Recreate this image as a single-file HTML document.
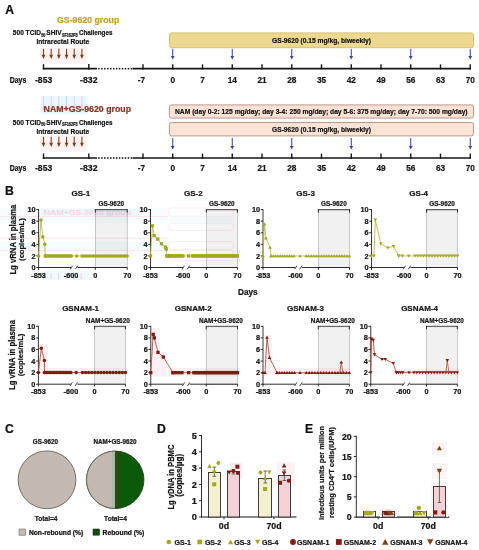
<!DOCTYPE html>
<html><head><meta charset="utf-8"><style>
html,body{margin:0;padding:0;background:#fff;}
body{width:479px;height:550px;overflow:hidden;}
svg{display:block;}
text{font-family:"Liberation Sans",sans-serif;font-weight:bold;}
</style></head><body>
<svg width="479" height="550" viewBox="0 0 479 550">
<rect width="479" height="550" fill="#fff"/>
<text x="5.20" y="14.00" font-size="12.2" text-anchor="start" fill="#111" stroke="#111" stroke-width="0.22">A</text>
<text x="57.00" y="22.70" font-size="8.8" text-anchor="start" fill="#c5a12f" stroke="#c5a12f" stroke-width="0.22" textLength="62.30" lengthAdjust="spacingAndGlyphs">GS-9620 group</text>
<rect x="169.60" y="32.90" width="303.90" height="14.80" fill="#ecd98f" stroke="#d3bd68" stroke-width="0.9" rx="2"/>
<text x="272.00" y="43.30" font-size="7.8" text-anchor="start" fill="#111" stroke="#111" stroke-width="0.22" textLength="99.00" lengthAdjust="spacingAndGlyphs">GS-9620 (0.15 mg/kg, biweekly)</text>
<text x="12.80" y="35.40" font-size="8.1" text-anchor="start" fill="#111" stroke="#111" stroke-width="0.22" textLength="28.20" lengthAdjust="spacingAndGlyphs">500 TCID</text>
<text x="41.20" y="36.90" font-size="5.0" text-anchor="start" fill="#111" stroke="#111" stroke-width="0.22" textLength="4.20" lengthAdjust="spacingAndGlyphs">50</text>
<text x="46.30" y="35.40" font-size="8.1" text-anchor="start" fill="#111" stroke="#111" stroke-width="0.22" textLength="15.30" lengthAdjust="spacingAndGlyphs">SHIV</text>
<text x="62.00" y="36.90" font-size="5.0" text-anchor="start" fill="#111" stroke="#111" stroke-width="0.22" textLength="15.60" lengthAdjust="spacingAndGlyphs">SF162P3</text>
<text x="79.00" y="35.40" font-size="8.1" text-anchor="start" fill="#111" stroke="#111" stroke-width="0.22" textLength="33.40" lengthAdjust="spacingAndGlyphs">Challenges</text>
<text x="36.40" y="44.40" font-size="8.1" text-anchor="start" fill="#111" stroke="#111" stroke-width="0.22" textLength="52.90" lengthAdjust="spacingAndGlyphs">Intrarectal Route</text>
<rect x="40.00" y="48.00" width="46.50" height="15.50" fill="#fef2f4" stroke="none" stroke-width="1" rx="0"/>
<line x1="43.50" y1="48.80" x2="43.50" y2="55.30" stroke="#7e4218" stroke-width="1.1"/>
<path d="M41.60,54.80L45.40,54.80L43.50,59.00Z" fill="#7e4218"/>
<line x1="51.18" y1="48.80" x2="51.18" y2="55.30" stroke="#7e4218" stroke-width="1.1"/>
<path d="M49.28,54.80L53.08,54.80L51.18,59.00Z" fill="#7e4218"/>
<line x1="58.86" y1="48.80" x2="58.86" y2="55.30" stroke="#7e4218" stroke-width="1.1"/>
<path d="M56.96,54.80L60.76,54.80L58.86,59.00Z" fill="#7e4218"/>
<line x1="66.54" y1="48.80" x2="66.54" y2="55.30" stroke="#7e4218" stroke-width="1.1"/>
<path d="M64.64,54.80L68.44,54.80L66.54,59.00Z" fill="#7e4218"/>
<line x1="74.22" y1="48.80" x2="74.22" y2="55.30" stroke="#7e4218" stroke-width="1.1"/>
<path d="M72.32,54.80L76.12,54.80L74.22,59.00Z" fill="#7e4218"/>
<line x1="81.90" y1="48.80" x2="81.90" y2="55.30" stroke="#7e4218" stroke-width="1.1"/>
<path d="M80.00,54.80L83.80,54.80L81.90,59.00Z" fill="#7e4218"/>
<line x1="42.80" y1="68.70" x2="97.00" y2="68.70" stroke="#161616" stroke-width="1.7"/>
<line x1="43.50" y1="64.10" x2="43.50" y2="69.50" stroke="#161616" stroke-width="1.4"/>
<line x1="88.80" y1="64.10" x2="88.80" y2="69.50" stroke="#161616" stroke-width="1.4"/>
<rect x="98.20" y="67.90" width="1.50" height="1.60" fill="#161616" stroke="none" stroke-width="1" rx="0"/>
<rect x="101.15" y="67.90" width="1.50" height="1.60" fill="#161616" stroke="none" stroke-width="1" rx="0"/>
<rect x="104.10" y="67.90" width="1.50" height="1.60" fill="#161616" stroke="none" stroke-width="1" rx="0"/>
<rect x="107.05" y="67.90" width="1.50" height="1.60" fill="#161616" stroke="none" stroke-width="1" rx="0"/>
<rect x="110.00" y="67.90" width="1.50" height="1.60" fill="#161616" stroke="none" stroke-width="1" rx="0"/>
<rect x="112.95" y="67.90" width="1.50" height="1.60" fill="#161616" stroke="none" stroke-width="1" rx="0"/>
<rect x="115.90" y="67.90" width="1.50" height="1.60" fill="#161616" stroke="none" stroke-width="1" rx="0"/>
<rect x="118.85" y="67.90" width="1.50" height="1.60" fill="#161616" stroke="none" stroke-width="1" rx="0"/>
<rect x="121.80" y="67.90" width="1.50" height="1.60" fill="#161616" stroke="none" stroke-width="1" rx="0"/>
<rect x="124.75" y="67.90" width="1.50" height="1.60" fill="#161616" stroke="none" stroke-width="1" rx="0"/>
<rect x="127.70" y="67.90" width="1.50" height="1.60" fill="#161616" stroke="none" stroke-width="1" rx="0"/>
<rect x="130.65" y="67.90" width="1.50" height="1.60" fill="#161616" stroke="none" stroke-width="1" rx="0"/>
<line x1="132.60" y1="68.70" x2="470.80" y2="68.70" stroke="#161616" stroke-width="1.7"/>
<line x1="143.00" y1="64.30" x2="143.00" y2="69.50" stroke="#161616" stroke-width="1.4"/>
<line x1="172.75" y1="64.30" x2="172.75" y2="69.50" stroke="#161616" stroke-width="1.4"/>
<line x1="202.50" y1="64.30" x2="202.50" y2="69.50" stroke="#161616" stroke-width="1.4"/>
<line x1="232.25" y1="64.30" x2="232.25" y2="69.50" stroke="#161616" stroke-width="1.4"/>
<line x1="262.00" y1="64.30" x2="262.00" y2="69.50" stroke="#161616" stroke-width="1.4"/>
<line x1="291.75" y1="64.30" x2="291.75" y2="69.50" stroke="#161616" stroke-width="1.4"/>
<line x1="321.50" y1="64.30" x2="321.50" y2="69.50" stroke="#161616" stroke-width="1.4"/>
<line x1="351.25" y1="64.30" x2="351.25" y2="69.50" stroke="#161616" stroke-width="1.4"/>
<line x1="381.00" y1="64.30" x2="381.00" y2="69.50" stroke="#161616" stroke-width="1.4"/>
<line x1="410.75" y1="64.30" x2="410.75" y2="69.50" stroke="#161616" stroke-width="1.4"/>
<line x1="440.50" y1="64.30" x2="440.50" y2="69.50" stroke="#161616" stroke-width="1.4"/>
<line x1="470.25" y1="64.30" x2="470.25" y2="69.50" stroke="#161616" stroke-width="1.4"/>
<text x="9.80" y="82.60" font-size="8.2" text-anchor="start" fill="#111" stroke="#111" stroke-width="0.22" textLength="16.40" lengthAdjust="spacingAndGlyphs">Days</text>
<text x="43.60" y="82.60" font-size="9.0" text-anchor="middle" fill="#161616" stroke="#161616" stroke-width="0.22" textLength="17.20" lengthAdjust="spacingAndGlyphs">-853</text>
<text x="88.80" y="82.60" font-size="9.0" text-anchor="middle" fill="#161616" stroke="#161616" stroke-width="0.22" textLength="17.40" lengthAdjust="spacingAndGlyphs">-832</text>
<text x="141.50" y="82.60" font-size="9.0" text-anchor="middle" fill="#161616" stroke="#161616" stroke-width="0.22" textLength="7.36" lengthAdjust="spacingAndGlyphs">-7</text>
<text x="172.75" y="82.60" font-size="9.0" text-anchor="middle" fill="#161616" stroke="#161616" stroke-width="0.22" textLength="4.60" lengthAdjust="spacingAndGlyphs">0</text>
<text x="202.50" y="82.60" font-size="9.0" text-anchor="middle" fill="#161616" stroke="#161616" stroke-width="0.22" textLength="4.60" lengthAdjust="spacingAndGlyphs">7</text>
<text x="232.25" y="82.60" font-size="9.0" text-anchor="middle" fill="#161616" stroke="#161616" stroke-width="0.22" textLength="9.21" lengthAdjust="spacingAndGlyphs">14</text>
<text x="262.00" y="82.60" font-size="9.0" text-anchor="middle" fill="#161616" stroke="#161616" stroke-width="0.22" textLength="9.21" lengthAdjust="spacingAndGlyphs">21</text>
<text x="291.75" y="82.60" font-size="9.0" text-anchor="middle" fill="#161616" stroke="#161616" stroke-width="0.22" textLength="9.21" lengthAdjust="spacingAndGlyphs">28</text>
<text x="321.50" y="82.60" font-size="9.0" text-anchor="middle" fill="#161616" stroke="#161616" stroke-width="0.22" textLength="9.21" lengthAdjust="spacingAndGlyphs">35</text>
<text x="351.25" y="82.60" font-size="9.0" text-anchor="middle" fill="#161616" stroke="#161616" stroke-width="0.22" textLength="9.21" lengthAdjust="spacingAndGlyphs">42</text>
<text x="381.00" y="82.60" font-size="9.0" text-anchor="middle" fill="#161616" stroke="#161616" stroke-width="0.22" textLength="9.21" lengthAdjust="spacingAndGlyphs">49</text>
<text x="410.75" y="82.60" font-size="9.0" text-anchor="middle" fill="#161616" stroke="#161616" stroke-width="0.22" textLength="9.21" lengthAdjust="spacingAndGlyphs">56</text>
<text x="440.50" y="82.60" font-size="9.0" text-anchor="middle" fill="#161616" stroke="#161616" stroke-width="0.22" textLength="9.21" lengthAdjust="spacingAndGlyphs">63</text>
<text x="470.25" y="82.60" font-size="9.0" text-anchor="middle" fill="#161616" stroke="#161616" stroke-width="0.22" textLength="9.21" lengthAdjust="spacingAndGlyphs">70</text>
<line x1="172.75" y1="48.80" x2="172.75" y2="56.40" stroke="#3c3c9c" stroke-width="1.0"/>
<path d="M170.95,55.90L174.55,55.90L172.75,59.50Z" fill="#3c3c9c"/>
<line x1="232.25" y1="48.80" x2="232.25" y2="56.40" stroke="#3c3c9c" stroke-width="1.0"/>
<path d="M230.45,55.90L234.05,55.90L232.25,59.50Z" fill="#3c3c9c"/>
<line x1="291.75" y1="48.80" x2="291.75" y2="56.40" stroke="#3c3c9c" stroke-width="1.0"/>
<path d="M289.95,55.90L293.55,55.90L291.75,59.50Z" fill="#3c3c9c"/>
<line x1="351.25" y1="48.80" x2="351.25" y2="56.40" stroke="#3c3c9c" stroke-width="1.0"/>
<path d="M349.45,55.90L353.05,55.90L351.25,59.50Z" fill="#3c3c9c"/>
<line x1="410.75" y1="48.80" x2="410.75" y2="56.40" stroke="#3c3c9c" stroke-width="1.0"/>
<path d="M408.95,55.90L412.55,55.90L410.75,59.50Z" fill="#3c3c9c"/>
<line x1="470.25" y1="48.80" x2="470.25" y2="56.40" stroke="#3c3c9c" stroke-width="1.0"/>
<path d="M468.45,55.90L472.05,55.90L470.25,59.50Z" fill="#3c3c9c"/>
<rect x="41.00" y="96.00" width="46.50" height="18.00" fill="#e6f8fb" stroke="none" stroke-width="1" rx="0"/>
<line x1="43.50" y1="96.00" x2="43.50" y2="110.00" stroke="#f6bcd8" stroke-width="0.8"/>
<path d="M41.90,107.5 L45.10,107.5 L43.50,111 Z" fill="#f6bcd8"/>
<line x1="51.18" y1="96.00" x2="51.18" y2="110.00" stroke="#f6bcd8" stroke-width="0.8"/>
<path d="M49.58,107.5 L52.78,107.5 L51.18,111 Z" fill="#f6bcd8"/>
<line x1="58.86" y1="96.00" x2="58.86" y2="110.00" stroke="#f6bcd8" stroke-width="0.8"/>
<path d="M57.26,107.5 L60.46,107.5 L58.86,111 Z" fill="#f6bcd8"/>
<line x1="66.54" y1="96.00" x2="66.54" y2="110.00" stroke="#f6bcd8" stroke-width="0.8"/>
<path d="M64.94,107.5 L68.14,107.5 L66.54,111 Z" fill="#f6bcd8"/>
<line x1="74.22" y1="96.00" x2="74.22" y2="110.00" stroke="#f6bcd8" stroke-width="0.8"/>
<path d="M72.62,107.5 L75.82,107.5 L74.22,111 Z" fill="#f6bcd8"/>
<line x1="81.90" y1="96.00" x2="81.90" y2="110.00" stroke="#f6bcd8" stroke-width="0.8"/>
<path d="M80.30,107.5 L83.50,107.5 L81.90,111 Z" fill="#f6bcd8"/>
<text x="43.60" y="112.00" font-size="8.8" text-anchor="start" fill="#8f3322" stroke="#8f3322" stroke-width="0.22" textLength="87.40" lengthAdjust="spacingAndGlyphs">NAM+GS-9620 group</text>
<rect x="169.40" y="104.90" width="304.10" height="13.20" fill="#fde2d6" stroke="#b98f80" stroke-width="0.9" rx="2"/>
<rect x="169.40" y="122.50" width="304.10" height="13.40" fill="#fde2d6" stroke="#b98f80" stroke-width="0.9" rx="2"/>
<text x="175.00" y="113.80" font-size="7.8" text-anchor="start" fill="#111" stroke="#111" stroke-width="0.22" textLength="292.60" lengthAdjust="spacingAndGlyphs">NAM (day 0-2: 125 mg/day; day 3-4: 250 mg/day; day 5-6: 375 mg/day; day 7-70: 500 mg/day)</text>
<text x="272.00" y="131.60" font-size="7.8" text-anchor="start" fill="#111" stroke="#111" stroke-width="0.22" textLength="99.00" lengthAdjust="spacingAndGlyphs">GS-9620 (0.15 mg/kg, biweekly)</text>
<text x="12.80" y="124.50" font-size="8.1" text-anchor="start" fill="#111" stroke="#111" stroke-width="0.22" textLength="28.20" lengthAdjust="spacingAndGlyphs">500 TCID</text>
<text x="41.20" y="126.00" font-size="5.0" text-anchor="start" fill="#111" stroke="#111" stroke-width="0.22" textLength="4.20" lengthAdjust="spacingAndGlyphs">50</text>
<text x="46.30" y="124.50" font-size="8.1" text-anchor="start" fill="#111" stroke="#111" stroke-width="0.22" textLength="15.30" lengthAdjust="spacingAndGlyphs">SHIV</text>
<text x="62.00" y="126.00" font-size="5.0" text-anchor="start" fill="#111" stroke="#111" stroke-width="0.22" textLength="15.60" lengthAdjust="spacingAndGlyphs">SF162P3</text>
<text x="79.00" y="124.50" font-size="8.1" text-anchor="start" fill="#111" stroke="#111" stroke-width="0.22" textLength="33.40" lengthAdjust="spacingAndGlyphs">Challenges</text>
<text x="36.40" y="133.50" font-size="8.1" text-anchor="start" fill="#111" stroke="#111" stroke-width="0.22" textLength="52.90" lengthAdjust="spacingAndGlyphs">Intrarectal Route</text>
<rect x="40.00" y="136.00" width="46.50" height="15.50" fill="#fef2f4" stroke="none" stroke-width="1" rx="0"/>
<line x1="43.50" y1="136.80" x2="43.50" y2="143.30" stroke="#7e4218" stroke-width="1.1"/>
<path d="M41.60,142.80L45.40,142.80L43.50,147.00Z" fill="#7e4218"/>
<line x1="51.18" y1="136.80" x2="51.18" y2="143.30" stroke="#7e4218" stroke-width="1.1"/>
<path d="M49.28,142.80L53.08,142.80L51.18,147.00Z" fill="#7e4218"/>
<line x1="58.86" y1="136.80" x2="58.86" y2="143.30" stroke="#7e4218" stroke-width="1.1"/>
<path d="M56.96,142.80L60.76,142.80L58.86,147.00Z" fill="#7e4218"/>
<line x1="66.54" y1="136.80" x2="66.54" y2="143.30" stroke="#7e4218" stroke-width="1.1"/>
<path d="M64.64,142.80L68.44,142.80L66.54,147.00Z" fill="#7e4218"/>
<line x1="74.22" y1="136.80" x2="74.22" y2="143.30" stroke="#7e4218" stroke-width="1.1"/>
<path d="M72.32,142.80L76.12,142.80L74.22,147.00Z" fill="#7e4218"/>
<line x1="81.90" y1="136.80" x2="81.90" y2="143.30" stroke="#7e4218" stroke-width="1.1"/>
<path d="M80.00,142.80L83.80,142.80L81.90,147.00Z" fill="#7e4218"/>
<line x1="42.80" y1="158.00" x2="97.00" y2="158.00" stroke="#161616" stroke-width="1.7"/>
<line x1="43.50" y1="153.40" x2="43.50" y2="158.80" stroke="#161616" stroke-width="1.4"/>
<line x1="88.80" y1="153.40" x2="88.80" y2="158.80" stroke="#161616" stroke-width="1.4"/>
<rect x="98.20" y="157.20" width="1.50" height="1.60" fill="#161616" stroke="none" stroke-width="1" rx="0"/>
<rect x="101.15" y="157.20" width="1.50" height="1.60" fill="#161616" stroke="none" stroke-width="1" rx="0"/>
<rect x="104.10" y="157.20" width="1.50" height="1.60" fill="#161616" stroke="none" stroke-width="1" rx="0"/>
<rect x="107.05" y="157.20" width="1.50" height="1.60" fill="#161616" stroke="none" stroke-width="1" rx="0"/>
<rect x="110.00" y="157.20" width="1.50" height="1.60" fill="#161616" stroke="none" stroke-width="1" rx="0"/>
<rect x="112.95" y="157.20" width="1.50" height="1.60" fill="#161616" stroke="none" stroke-width="1" rx="0"/>
<rect x="115.90" y="157.20" width="1.50" height="1.60" fill="#161616" stroke="none" stroke-width="1" rx="0"/>
<rect x="118.85" y="157.20" width="1.50" height="1.60" fill="#161616" stroke="none" stroke-width="1" rx="0"/>
<rect x="121.80" y="157.20" width="1.50" height="1.60" fill="#161616" stroke="none" stroke-width="1" rx="0"/>
<rect x="124.75" y="157.20" width="1.50" height="1.60" fill="#161616" stroke="none" stroke-width="1" rx="0"/>
<rect x="127.70" y="157.20" width="1.50" height="1.60" fill="#161616" stroke="none" stroke-width="1" rx="0"/>
<rect x="130.65" y="157.20" width="1.50" height="1.60" fill="#161616" stroke="none" stroke-width="1" rx="0"/>
<line x1="132.60" y1="158.00" x2="470.80" y2="158.00" stroke="#161616" stroke-width="1.7"/>
<line x1="143.00" y1="153.60" x2="143.00" y2="158.80" stroke="#161616" stroke-width="1.4"/>
<line x1="172.75" y1="153.60" x2="172.75" y2="158.80" stroke="#161616" stroke-width="1.4"/>
<line x1="202.50" y1="153.60" x2="202.50" y2="158.80" stroke="#161616" stroke-width="1.4"/>
<line x1="232.25" y1="153.60" x2="232.25" y2="158.80" stroke="#161616" stroke-width="1.4"/>
<line x1="262.00" y1="153.60" x2="262.00" y2="158.80" stroke="#161616" stroke-width="1.4"/>
<line x1="291.75" y1="153.60" x2="291.75" y2="158.80" stroke="#161616" stroke-width="1.4"/>
<line x1="321.50" y1="153.60" x2="321.50" y2="158.80" stroke="#161616" stroke-width="1.4"/>
<line x1="351.25" y1="153.60" x2="351.25" y2="158.80" stroke="#161616" stroke-width="1.4"/>
<line x1="381.00" y1="153.60" x2="381.00" y2="158.80" stroke="#161616" stroke-width="1.4"/>
<line x1="410.75" y1="153.60" x2="410.75" y2="158.80" stroke="#161616" stroke-width="1.4"/>
<line x1="440.50" y1="153.60" x2="440.50" y2="158.80" stroke="#161616" stroke-width="1.4"/>
<line x1="470.25" y1="153.60" x2="470.25" y2="158.80" stroke="#161616" stroke-width="1.4"/>
<text x="9.80" y="171.00" font-size="8.2" text-anchor="start" fill="#111" stroke="#111" stroke-width="0.22" textLength="16.40" lengthAdjust="spacingAndGlyphs">Days</text>
<text x="43.60" y="171.00" font-size="9.0" text-anchor="middle" fill="#161616" stroke="#161616" stroke-width="0.22" textLength="17.20" lengthAdjust="spacingAndGlyphs">-853</text>
<text x="88.80" y="171.00" font-size="9.0" text-anchor="middle" fill="#161616" stroke="#161616" stroke-width="0.22" textLength="17.40" lengthAdjust="spacingAndGlyphs">-832</text>
<text x="141.50" y="171.00" font-size="9.0" text-anchor="middle" fill="#161616" stroke="#161616" stroke-width="0.22" textLength="7.36" lengthAdjust="spacingAndGlyphs">-7</text>
<text x="172.75" y="171.00" font-size="9.0" text-anchor="middle" fill="#161616" stroke="#161616" stroke-width="0.22" textLength="4.60" lengthAdjust="spacingAndGlyphs">0</text>
<text x="202.50" y="171.00" font-size="9.0" text-anchor="middle" fill="#161616" stroke="#161616" stroke-width="0.22" textLength="4.60" lengthAdjust="spacingAndGlyphs">7</text>
<text x="232.25" y="171.00" font-size="9.0" text-anchor="middle" fill="#161616" stroke="#161616" stroke-width="0.22" textLength="9.21" lengthAdjust="spacingAndGlyphs">14</text>
<text x="262.00" y="171.00" font-size="9.0" text-anchor="middle" fill="#161616" stroke="#161616" stroke-width="0.22" textLength="9.21" lengthAdjust="spacingAndGlyphs">21</text>
<text x="291.75" y="171.00" font-size="9.0" text-anchor="middle" fill="#161616" stroke="#161616" stroke-width="0.22" textLength="9.21" lengthAdjust="spacingAndGlyphs">28</text>
<text x="321.50" y="171.00" font-size="9.0" text-anchor="middle" fill="#161616" stroke="#161616" stroke-width="0.22" textLength="9.21" lengthAdjust="spacingAndGlyphs">35</text>
<text x="351.25" y="171.00" font-size="9.0" text-anchor="middle" fill="#161616" stroke="#161616" stroke-width="0.22" textLength="9.21" lengthAdjust="spacingAndGlyphs">42</text>
<text x="381.00" y="171.00" font-size="9.0" text-anchor="middle" fill="#161616" stroke="#161616" stroke-width="0.22" textLength="9.21" lengthAdjust="spacingAndGlyphs">49</text>
<text x="410.75" y="171.00" font-size="9.0" text-anchor="middle" fill="#161616" stroke="#161616" stroke-width="0.22" textLength="9.21" lengthAdjust="spacingAndGlyphs">56</text>
<text x="440.50" y="171.00" font-size="9.0" text-anchor="middle" fill="#161616" stroke="#161616" stroke-width="0.22" textLength="9.21" lengthAdjust="spacingAndGlyphs">63</text>
<text x="470.25" y="171.00" font-size="9.0" text-anchor="middle" fill="#161616" stroke="#161616" stroke-width="0.22" textLength="9.21" lengthAdjust="spacingAndGlyphs">70</text>
<line x1="172.75" y1="138.00" x2="172.75" y2="146.40" stroke="#3c3c9c" stroke-width="1.0"/>
<path d="M170.95,145.90L174.55,145.90L172.75,149.50Z" fill="#3c3c9c"/>
<line x1="232.25" y1="138.00" x2="232.25" y2="146.40" stroke="#3c3c9c" stroke-width="1.0"/>
<path d="M230.45,145.90L234.05,145.90L232.25,149.50Z" fill="#3c3c9c"/>
<line x1="291.75" y1="138.00" x2="291.75" y2="146.40" stroke="#3c3c9c" stroke-width="1.0"/>
<path d="M289.95,145.90L293.55,145.90L291.75,149.50Z" fill="#3c3c9c"/>
<line x1="351.25" y1="138.00" x2="351.25" y2="146.40" stroke="#3c3c9c" stroke-width="1.0"/>
<path d="M349.45,145.90L353.05,145.90L351.25,149.50Z" fill="#3c3c9c"/>
<line x1="410.75" y1="138.00" x2="410.75" y2="146.40" stroke="#3c3c9c" stroke-width="1.0"/>
<path d="M408.95,145.90L412.55,145.90L410.75,149.50Z" fill="#3c3c9c"/>
<line x1="470.25" y1="138.00" x2="470.25" y2="146.40" stroke="#3c3c9c" stroke-width="1.0"/>
<path d="M468.45,145.90L472.05,145.90L470.25,149.50Z" fill="#3c3c9c"/>
<text x="5.00" y="194.90" font-size="12.2" text-anchor="start" fill="#111" stroke="#111" stroke-width="0.22">B</text>
<rect x="95.30" y="210.10" width="31.90" height="57.40" fill="#f1f1f2" stroke="#a8a8a8" stroke-width="0.6" rx="0"/>
<line x1="95.30" y1="209.60" x2="127.20" y2="209.60" stroke="#2a2a2a" stroke-width="0.8"/>
<line x1="95.30" y1="209.10" x2="95.30" y2="212.60" stroke="#161616" stroke-width="0.9"/>
<line x1="127.20" y1="209.10" x2="127.20" y2="212.60" stroke="#161616" stroke-width="0.9"/>
<text x="111.25" y="206.00" font-size="6.6" text-anchor="middle" fill="#161616" stroke="#161616" stroke-width="0.22" textLength="25.62" lengthAdjust="spacingAndGlyphs">GS-9620</text>
<text x="80.80" y="195.50" font-size="8.0" text-anchor="middle" fill="#161616" stroke="#161616" stroke-width="0.22">GS-1</text>
<line x1="38.60" y1="209.10" x2="38.60" y2="268.00" stroke="#3a3a3a" stroke-width="1.0"/>
<line x1="36.30" y1="267.50" x2="38.60" y2="267.50" stroke="#161616" stroke-width="0.9"/>
<text x="35.60" y="270.10" font-size="7.3" text-anchor="end" fill="#161616" stroke="#161616" stroke-width="0.22">0</text>
<line x1="36.30" y1="255.92" x2="38.60" y2="255.92" stroke="#161616" stroke-width="0.9"/>
<text x="35.60" y="258.52" font-size="7.3" text-anchor="end" fill="#161616" stroke="#161616" stroke-width="0.22">2</text>
<line x1="36.30" y1="244.34" x2="38.60" y2="244.34" stroke="#161616" stroke-width="0.9"/>
<text x="35.60" y="246.94" font-size="7.3" text-anchor="end" fill="#161616" stroke="#161616" stroke-width="0.22">4</text>
<line x1="36.30" y1="232.76" x2="38.60" y2="232.76" stroke="#161616" stroke-width="0.9"/>
<text x="35.60" y="235.36" font-size="7.3" text-anchor="end" fill="#161616" stroke="#161616" stroke-width="0.22">6</text>
<line x1="36.30" y1="221.18" x2="38.60" y2="221.18" stroke="#161616" stroke-width="0.9"/>
<text x="35.60" y="223.78" font-size="7.3" text-anchor="end" fill="#161616" stroke="#161616" stroke-width="0.22">8</text>
<line x1="36.30" y1="209.60" x2="38.60" y2="209.60" stroke="#161616" stroke-width="0.9"/>
<text x="35.60" y="212.20" font-size="7.3" text-anchor="end" fill="#161616" stroke="#161616" stroke-width="0.22">10</text>
<line x1="38.60" y1="267.50" x2="71.00" y2="267.50" stroke="#161616" stroke-width="0.9"/>
<line x1="77.50" y1="267.50" x2="127.20" y2="267.50" stroke="#161616" stroke-width="0.9"/>
<line x1="70.20" y1="269.30" x2="72.60" y2="265.70" stroke="#161616" stroke-width="0.8"/>
<line x1="75.30" y1="269.30" x2="77.70" y2="265.70" stroke="#161616" stroke-width="0.8"/>
<line x1="95.30" y1="267.50" x2="95.30" y2="269.80" stroke="#161616" stroke-width="0.9"/>
<line x1="127.20" y1="267.50" x2="127.20" y2="269.80" stroke="#161616" stroke-width="0.9"/>
<line x1="38.60" y1="267.50" x2="38.60" y2="269.80" stroke="#161616" stroke-width="0.9"/>
<text x="38.60" y="277.50" font-size="7.3" text-anchor="middle" fill="#161616" stroke="#161616" stroke-width="0.22">-853</text>
<text x="71.10" y="277.50" font-size="7.3" text-anchor="middle" fill="#161616" stroke="#161616" stroke-width="0.22">-600</text>
<text x="95.30" y="277.50" font-size="7.3" text-anchor="middle" fill="#161616" stroke="#161616" stroke-width="0.22">0</text>
<text x="127.20" y="277.50" font-size="7.3" text-anchor="middle" fill="#161616" stroke="#161616" stroke-width="0.22">70</text>
<path d="M38.60,255.92 L41.00,220.02 L42.80,236.81 L44.80,244.34 L45.30,255.92" fill="none" stroke="#b9bb4c" stroke-width="0.9"/>
<line x1="45.30" y1="255.92" x2="127.20" y2="255.92" stroke="#b9bb4c" stroke-width="0.8"/>
<circle cx="38.60" cy="255.92" r="1.75" fill="#a2a820"/>
<circle cx="41.00" cy="220.02" r="1.75" fill="#a2a820"/>
<circle cx="42.80" cy="236.81" r="1.75" fill="#a2a820"/>
<circle cx="44.80" cy="244.34" r="1.75" fill="#a2a820"/>
<circle cx="45.30" cy="255.92" r="1.75" fill="#a2a820"/>
<circle cx="45.30" cy="255.92" r="1.75" fill="#a2a820"/>
<circle cx="46.67" cy="255.92" r="1.75" fill="#a2a820"/>
<circle cx="48.05" cy="255.92" r="1.75" fill="#a2a820"/>
<circle cx="49.42" cy="255.92" r="1.75" fill="#a2a820"/>
<circle cx="50.79" cy="255.92" r="1.75" fill="#a2a820"/>
<circle cx="52.17" cy="255.92" r="1.75" fill="#a2a820"/>
<circle cx="53.54" cy="255.92" r="1.75" fill="#a2a820"/>
<circle cx="54.92" cy="255.92" r="1.75" fill="#a2a820"/>
<circle cx="56.29" cy="255.92" r="1.75" fill="#a2a820"/>
<circle cx="57.66" cy="255.92" r="1.75" fill="#a2a820"/>
<circle cx="59.04" cy="255.92" r="1.75" fill="#a2a820"/>
<circle cx="60.41" cy="255.92" r="1.75" fill="#a2a820"/>
<circle cx="61.78" cy="255.92" r="1.75" fill="#a2a820"/>
<circle cx="63.16" cy="255.92" r="1.75" fill="#a2a820"/>
<circle cx="64.53" cy="255.92" r="1.75" fill="#a2a820"/>
<circle cx="65.91" cy="255.92" r="1.75" fill="#a2a820"/>
<circle cx="67.28" cy="255.92" r="1.75" fill="#a2a820"/>
<circle cx="68.65" cy="255.92" r="1.75" fill="#a2a820"/>
<circle cx="70.03" cy="255.92" r="1.75" fill="#a2a820"/>
<circle cx="71.40" cy="255.92" r="1.75" fill="#a2a820"/>
<circle cx="76.80" cy="255.92" r="1.75" fill="#a2a820"/>
<circle cx="82.00" cy="255.92" r="1.75" fill="#a2a820"/>
<circle cx="84.26" cy="255.92" r="1.75" fill="#a2a820"/>
<circle cx="86.52" cy="255.92" r="1.75" fill="#a2a820"/>
<circle cx="88.78" cy="255.92" r="1.75" fill="#a2a820"/>
<circle cx="91.04" cy="255.92" r="1.75" fill="#a2a820"/>
<circle cx="93.30" cy="255.92" r="1.75" fill="#a2a820"/>
<circle cx="95.56" cy="255.92" r="1.75" fill="#a2a820"/>
<circle cx="97.82" cy="255.92" r="1.75" fill="#a2a820"/>
<circle cx="100.08" cy="255.92" r="1.75" fill="#a2a820"/>
<circle cx="102.34" cy="255.92" r="1.75" fill="#a2a820"/>
<circle cx="104.60" cy="255.92" r="1.75" fill="#a2a820"/>
<circle cx="106.86" cy="255.92" r="1.75" fill="#a2a820"/>
<circle cx="109.12" cy="255.92" r="1.75" fill="#a2a820"/>
<circle cx="111.38" cy="255.92" r="1.75" fill="#a2a820"/>
<circle cx="113.64" cy="255.92" r="1.75" fill="#a2a820"/>
<circle cx="115.90" cy="255.92" r="1.75" fill="#a2a820"/>
<circle cx="118.16" cy="255.92" r="1.75" fill="#a2a820"/>
<circle cx="120.42" cy="255.92" r="1.75" fill="#a2a820"/>
<circle cx="122.68" cy="255.92" r="1.75" fill="#a2a820"/>
<circle cx="124.94" cy="255.92" r="1.75" fill="#a2a820"/>
<circle cx="127.20" cy="255.92" r="1.75" fill="#a2a820"/>
<rect x="206.30" y="210.10" width="31.10" height="57.40" fill="#f1f1f2" stroke="#a8a8a8" stroke-width="0.6" rx="0"/>
<line x1="206.30" y1="209.60" x2="237.40" y2="209.60" stroke="#2a2a2a" stroke-width="0.8"/>
<line x1="206.30" y1="209.10" x2="206.30" y2="212.60" stroke="#161616" stroke-width="0.9"/>
<line x1="237.40" y1="209.10" x2="237.40" y2="212.60" stroke="#161616" stroke-width="0.9"/>
<text x="221.85" y="206.00" font-size="6.6" text-anchor="middle" fill="#161616" stroke="#161616" stroke-width="0.22" textLength="25.62" lengthAdjust="spacingAndGlyphs">GS-9620</text>
<text x="193.25" y="195.50" font-size="8.0" text-anchor="middle" fill="#161616" stroke="#161616" stroke-width="0.22">GS-2</text>
<line x1="150.50" y1="209.10" x2="150.50" y2="268.00" stroke="#3a3a3a" stroke-width="1.0"/>
<line x1="148.20" y1="267.50" x2="150.50" y2="267.50" stroke="#161616" stroke-width="0.9"/>
<text x="147.50" y="270.10" font-size="7.3" text-anchor="end" fill="#161616" stroke="#161616" stroke-width="0.22">0</text>
<line x1="148.20" y1="255.92" x2="150.50" y2="255.92" stroke="#161616" stroke-width="0.9"/>
<text x="147.50" y="258.52" font-size="7.3" text-anchor="end" fill="#161616" stroke="#161616" stroke-width="0.22">2</text>
<line x1="148.20" y1="244.34" x2="150.50" y2="244.34" stroke="#161616" stroke-width="0.9"/>
<text x="147.50" y="246.94" font-size="7.3" text-anchor="end" fill="#161616" stroke="#161616" stroke-width="0.22">4</text>
<line x1="148.20" y1="232.76" x2="150.50" y2="232.76" stroke="#161616" stroke-width="0.9"/>
<text x="147.50" y="235.36" font-size="7.3" text-anchor="end" fill="#161616" stroke="#161616" stroke-width="0.22">6</text>
<line x1="148.20" y1="221.18" x2="150.50" y2="221.18" stroke="#161616" stroke-width="0.9"/>
<text x="147.50" y="223.78" font-size="7.3" text-anchor="end" fill="#161616" stroke="#161616" stroke-width="0.22">8</text>
<line x1="148.20" y1="209.60" x2="150.50" y2="209.60" stroke="#161616" stroke-width="0.9"/>
<text x="147.50" y="212.20" font-size="7.3" text-anchor="end" fill="#161616" stroke="#161616" stroke-width="0.22">10</text>
<line x1="150.50" y1="267.50" x2="182.90" y2="267.50" stroke="#161616" stroke-width="0.9"/>
<line x1="189.40" y1="267.50" x2="237.40" y2="267.50" stroke="#161616" stroke-width="0.9"/>
<line x1="182.10" y1="269.30" x2="184.50" y2="265.70" stroke="#161616" stroke-width="0.8"/>
<line x1="187.20" y1="269.30" x2="189.60" y2="265.70" stroke="#161616" stroke-width="0.8"/>
<line x1="206.30" y1="267.50" x2="206.30" y2="269.80" stroke="#161616" stroke-width="0.9"/>
<line x1="237.40" y1="267.50" x2="237.40" y2="269.80" stroke="#161616" stroke-width="0.9"/>
<line x1="150.50" y1="267.50" x2="150.50" y2="269.80" stroke="#161616" stroke-width="0.9"/>
<text x="150.50" y="277.50" font-size="7.3" text-anchor="middle" fill="#161616" stroke="#161616" stroke-width="0.22">-853</text>
<text x="183.00" y="277.50" font-size="7.3" text-anchor="middle" fill="#161616" stroke="#161616" stroke-width="0.22">-600</text>
<text x="206.30" y="277.50" font-size="7.3" text-anchor="middle" fill="#161616" stroke="#161616" stroke-width="0.22">0</text>
<text x="237.40" y="277.50" font-size="7.3" text-anchor="middle" fill="#161616" stroke="#161616" stroke-width="0.22">70</text>
<path d="M150.50,255.92 L152.40,225.81 L154.10,235.66 L157.80,239.13 L161.50,243.76 L165.50,247.23 L166.20,248.97 L167.00,255.92" fill="none" stroke="#b9bb4c" stroke-width="0.9"/>
<line x1="167.00" y1="255.92" x2="237.40" y2="255.92" stroke="#b9bb4c" stroke-width="0.8"/>
<rect x="148.85" y="254.27" width="3.30" height="3.30" fill="#a2a820"/>
<rect x="150.75" y="224.16" width="3.30" height="3.30" fill="#a2a820"/>
<rect x="152.45" y="234.00" width="3.30" height="3.30" fill="#a2a820"/>
<rect x="156.15" y="237.48" width="3.30" height="3.30" fill="#a2a820"/>
<rect x="159.85" y="242.11" width="3.30" height="3.30" fill="#a2a820"/>
<rect x="163.85" y="245.58" width="3.30" height="3.30" fill="#a2a820"/>
<rect x="164.55" y="247.32" width="3.30" height="3.30" fill="#a2a820"/>
<rect x="165.35" y="254.27" width="3.30" height="3.30" fill="#a2a820"/>
<rect x="165.35" y="254.27" width="3.30" height="3.30" fill="#a2a820"/>
<rect x="166.80" y="254.27" width="3.30" height="3.30" fill="#a2a820"/>
<rect x="168.26" y="254.27" width="3.30" height="3.30" fill="#a2a820"/>
<rect x="169.71" y="254.27" width="3.30" height="3.30" fill="#a2a820"/>
<rect x="171.17" y="254.27" width="3.30" height="3.30" fill="#a2a820"/>
<rect x="172.62" y="254.27" width="3.30" height="3.30" fill="#a2a820"/>
<rect x="174.08" y="254.27" width="3.30" height="3.30" fill="#a2a820"/>
<rect x="175.53" y="254.27" width="3.30" height="3.30" fill="#a2a820"/>
<rect x="176.99" y="254.27" width="3.30" height="3.30" fill="#a2a820"/>
<rect x="178.44" y="254.27" width="3.30" height="3.30" fill="#a2a820"/>
<rect x="179.90" y="254.27" width="3.30" height="3.30" fill="#a2a820"/>
<rect x="181.35" y="254.27" width="3.30" height="3.30" fill="#a2a820"/>
<rect x="186.95" y="254.27" width="3.30" height="3.30" fill="#a2a820"/>
<rect x="190.85" y="254.27" width="3.30" height="3.30" fill="#a2a820"/>
<rect x="192.35" y="254.27" width="3.30" height="3.30" fill="#a2a820"/>
<rect x="193.84" y="254.27" width="3.30" height="3.30" fill="#a2a820"/>
<rect x="195.34" y="254.27" width="3.30" height="3.30" fill="#a2a820"/>
<rect x="196.84" y="254.27" width="3.30" height="3.30" fill="#a2a820"/>
<rect x="198.33" y="254.27" width="3.30" height="3.30" fill="#a2a820"/>
<rect x="199.83" y="254.27" width="3.30" height="3.30" fill="#a2a820"/>
<rect x="201.33" y="254.27" width="3.30" height="3.30" fill="#a2a820"/>
<rect x="202.82" y="254.27" width="3.30" height="3.30" fill="#a2a820"/>
<rect x="204.32" y="254.27" width="3.30" height="3.30" fill="#a2a820"/>
<rect x="205.82" y="254.27" width="3.30" height="3.30" fill="#a2a820"/>
<rect x="207.31" y="254.27" width="3.30" height="3.30" fill="#a2a820"/>
<rect x="208.81" y="254.27" width="3.30" height="3.30" fill="#a2a820"/>
<rect x="210.31" y="254.27" width="3.30" height="3.30" fill="#a2a820"/>
<rect x="211.80" y="254.27" width="3.30" height="3.30" fill="#a2a820"/>
<rect x="213.30" y="254.27" width="3.30" height="3.30" fill="#a2a820"/>
<rect x="214.80" y="254.27" width="3.30" height="3.30" fill="#a2a820"/>
<rect x="216.29" y="254.27" width="3.30" height="3.30" fill="#a2a820"/>
<rect x="217.79" y="254.27" width="3.30" height="3.30" fill="#a2a820"/>
<rect x="219.29" y="254.27" width="3.30" height="3.30" fill="#a2a820"/>
<rect x="220.78" y="254.27" width="3.30" height="3.30" fill="#a2a820"/>
<rect x="222.28" y="254.27" width="3.30" height="3.30" fill="#a2a820"/>
<rect x="223.78" y="254.27" width="3.30" height="3.30" fill="#a2a820"/>
<rect x="225.27" y="254.27" width="3.30" height="3.30" fill="#a2a820"/>
<rect x="226.77" y="254.27" width="3.30" height="3.30" fill="#a2a820"/>
<rect x="228.27" y="254.27" width="3.30" height="3.30" fill="#a2a820"/>
<rect x="229.76" y="254.27" width="3.30" height="3.30" fill="#a2a820"/>
<rect x="231.26" y="254.27" width="3.30" height="3.30" fill="#a2a820"/>
<rect x="232.76" y="254.27" width="3.30" height="3.30" fill="#a2a820"/>
<rect x="234.25" y="254.27" width="3.30" height="3.30" fill="#a2a820"/>
<rect x="235.75" y="254.27" width="3.30" height="3.30" fill="#a2a820"/>
<rect x="318.30" y="210.10" width="31.20" height="57.40" fill="#f1f1f2" stroke="#a8a8a8" stroke-width="0.6" rx="0"/>
<line x1="318.30" y1="209.60" x2="349.50" y2="209.60" stroke="#2a2a2a" stroke-width="0.8"/>
<line x1="318.30" y1="209.10" x2="318.30" y2="212.60" stroke="#161616" stroke-width="0.9"/>
<line x1="349.50" y1="209.10" x2="349.50" y2="212.60" stroke="#161616" stroke-width="0.9"/>
<text x="333.90" y="206.00" font-size="6.6" text-anchor="middle" fill="#161616" stroke="#161616" stroke-width="0.22" textLength="25.62" lengthAdjust="spacingAndGlyphs">GS-9620</text>
<text x="305.50" y="195.50" font-size="8.0" text-anchor="middle" fill="#161616" stroke="#161616" stroke-width="0.22">GS-3</text>
<line x1="263.00" y1="209.10" x2="263.00" y2="268.00" stroke="#3a3a3a" stroke-width="1.0"/>
<line x1="260.70" y1="267.50" x2="263.00" y2="267.50" stroke="#161616" stroke-width="0.9"/>
<text x="260.00" y="270.10" font-size="7.3" text-anchor="end" fill="#161616" stroke="#161616" stroke-width="0.22">0</text>
<line x1="260.70" y1="255.92" x2="263.00" y2="255.92" stroke="#161616" stroke-width="0.9"/>
<text x="260.00" y="258.52" font-size="7.3" text-anchor="end" fill="#161616" stroke="#161616" stroke-width="0.22">2</text>
<line x1="260.70" y1="244.34" x2="263.00" y2="244.34" stroke="#161616" stroke-width="0.9"/>
<text x="260.00" y="246.94" font-size="7.3" text-anchor="end" fill="#161616" stroke="#161616" stroke-width="0.22">4</text>
<line x1="260.70" y1="232.76" x2="263.00" y2="232.76" stroke="#161616" stroke-width="0.9"/>
<text x="260.00" y="235.36" font-size="7.3" text-anchor="end" fill="#161616" stroke="#161616" stroke-width="0.22">6</text>
<line x1="260.70" y1="221.18" x2="263.00" y2="221.18" stroke="#161616" stroke-width="0.9"/>
<text x="260.00" y="223.78" font-size="7.3" text-anchor="end" fill="#161616" stroke="#161616" stroke-width="0.22">8</text>
<line x1="260.70" y1="209.60" x2="263.00" y2="209.60" stroke="#161616" stroke-width="0.9"/>
<text x="260.00" y="212.20" font-size="7.3" text-anchor="end" fill="#161616" stroke="#161616" stroke-width="0.22">10</text>
<line x1="263.00" y1="267.50" x2="295.40" y2="267.50" stroke="#161616" stroke-width="0.9"/>
<line x1="301.90" y1="267.50" x2="349.50" y2="267.50" stroke="#161616" stroke-width="0.9"/>
<line x1="294.60" y1="269.30" x2="297.00" y2="265.70" stroke="#161616" stroke-width="0.8"/>
<line x1="299.70" y1="269.30" x2="302.10" y2="265.70" stroke="#161616" stroke-width="0.8"/>
<line x1="318.30" y1="267.50" x2="318.30" y2="269.80" stroke="#161616" stroke-width="0.9"/>
<line x1="349.50" y1="267.50" x2="349.50" y2="269.80" stroke="#161616" stroke-width="0.9"/>
<line x1="263.00" y1="267.50" x2="263.00" y2="269.80" stroke="#161616" stroke-width="0.9"/>
<text x="263.00" y="277.50" font-size="7.3" text-anchor="middle" fill="#161616" stroke="#161616" stroke-width="0.22">-853</text>
<text x="295.50" y="277.50" font-size="7.3" text-anchor="middle" fill="#161616" stroke="#161616" stroke-width="0.22">-600</text>
<text x="318.30" y="277.50" font-size="7.3" text-anchor="middle" fill="#161616" stroke="#161616" stroke-width="0.22">0</text>
<text x="349.50" y="277.50" font-size="7.3" text-anchor="middle" fill="#161616" stroke="#161616" stroke-width="0.22">70</text>
<path d="M263.00,255.92 L264.50,224.07 L266.00,237.97 L270.00,247.23 L271.00,255.92" fill="none" stroke="#b9bb4c" stroke-width="0.9"/>
<line x1="271.00" y1="255.92" x2="349.50" y2="255.92" stroke="#b9bb4c" stroke-width="0.8"/>
<path d="M261.20,257.34L264.80,257.34L263.00,254.19Z" fill="#a2a820"/>
<path d="M262.70,225.50L266.30,225.50L264.50,222.35Z" fill="#a2a820"/>
<path d="M264.20,239.40L267.80,239.40L266.00,236.25Z" fill="#a2a820"/>
<path d="M268.20,248.66L271.80,248.66L270.00,245.51Z" fill="#a2a820"/>
<path d="M269.20,257.34L272.80,257.34L271.00,254.19Z" fill="#a2a820"/>
<path d="M269.20,257.34L272.80,257.34L271.00,254.19Z" fill="#a2a820"/>
<path d="M271.50,257.34L275.10,257.34L273.30,254.19Z" fill="#a2a820"/>
<path d="M273.80,257.34L277.40,257.34L275.60,254.19Z" fill="#a2a820"/>
<path d="M276.10,257.34L279.70,257.34L277.90,254.19Z" fill="#a2a820"/>
<path d="M278.40,257.34L282.00,257.34L280.20,254.19Z" fill="#a2a820"/>
<path d="M280.70,257.34L284.30,257.34L282.50,254.19Z" fill="#a2a820"/>
<path d="M283.00,257.34L286.60,257.34L284.80,254.19Z" fill="#a2a820"/>
<path d="M285.30,257.34L288.90,257.34L287.10,254.19Z" fill="#a2a820"/>
<path d="M287.60,257.34L291.20,257.34L289.40,254.19Z" fill="#a2a820"/>
<path d="M289.90,257.34L293.50,257.34L291.70,254.19Z" fill="#a2a820"/>
<path d="M292.20,257.34L295.80,257.34L294.00,254.19Z" fill="#a2a820"/>
<path d="M298.20,257.34L301.80,257.34L300.00,254.19Z" fill="#a2a820"/>
<path d="M304.20,257.34L307.80,257.34L306.00,254.19Z" fill="#a2a820"/>
<path d="M306.76,257.34L310.36,257.34L308.56,254.19Z" fill="#a2a820"/>
<path d="M309.32,257.34L312.92,257.34L311.12,254.19Z" fill="#a2a820"/>
<path d="M311.88,257.34L315.48,257.34L313.68,254.19Z" fill="#a2a820"/>
<path d="M314.44,257.34L318.04,257.34L316.24,254.19Z" fill="#a2a820"/>
<path d="M316.99,257.34L320.59,257.34L318.79,254.19Z" fill="#a2a820"/>
<path d="M319.55,257.34L323.15,257.34L321.35,254.19Z" fill="#a2a820"/>
<path d="M322.11,257.34L325.71,257.34L323.91,254.19Z" fill="#a2a820"/>
<path d="M324.67,257.34L328.27,257.34L326.47,254.19Z" fill="#a2a820"/>
<path d="M327.23,257.34L330.83,257.34L329.03,254.19Z" fill="#a2a820"/>
<path d="M329.79,257.34L333.39,257.34L331.59,254.19Z" fill="#a2a820"/>
<path d="M332.35,257.34L335.95,257.34L334.15,254.19Z" fill="#a2a820"/>
<path d="M334.91,257.34L338.51,257.34L336.71,254.19Z" fill="#a2a820"/>
<path d="M337.46,257.34L341.06,257.34L339.26,254.19Z" fill="#a2a820"/>
<path d="M340.02,257.34L343.62,257.34L341.82,254.19Z" fill="#a2a820"/>
<path d="M342.58,257.34L346.18,257.34L344.38,254.19Z" fill="#a2a820"/>
<path d="M345.14,257.34L348.74,257.34L346.94,254.19Z" fill="#a2a820"/>
<path d="M347.70,257.34L351.30,257.34L349.50,254.19Z" fill="#a2a820"/>
<rect x="426.60" y="210.10" width="30.90" height="57.40" fill="#f1f1f2" stroke="#a8a8a8" stroke-width="0.6" rx="0"/>
<line x1="426.60" y1="209.60" x2="457.50" y2="209.60" stroke="#2a2a2a" stroke-width="0.8"/>
<line x1="426.60" y1="209.10" x2="426.60" y2="212.60" stroke="#161616" stroke-width="0.9"/>
<line x1="457.50" y1="209.10" x2="457.50" y2="212.60" stroke="#161616" stroke-width="0.9"/>
<text x="442.05" y="206.00" font-size="6.6" text-anchor="middle" fill="#161616" stroke="#161616" stroke-width="0.22" textLength="25.62" lengthAdjust="spacingAndGlyphs">GS-9620</text>
<text x="418.70" y="195.50" font-size="8.0" text-anchor="middle" fill="#161616" stroke="#161616" stroke-width="0.22">GS-4</text>
<line x1="371.50" y1="209.10" x2="371.50" y2="268.00" stroke="#3a3a3a" stroke-width="1.0"/>
<line x1="369.20" y1="267.50" x2="371.50" y2="267.50" stroke="#161616" stroke-width="0.9"/>
<text x="368.50" y="270.10" font-size="7.3" text-anchor="end" fill="#161616" stroke="#161616" stroke-width="0.22">0</text>
<line x1="369.20" y1="255.92" x2="371.50" y2="255.92" stroke="#161616" stroke-width="0.9"/>
<text x="368.50" y="258.52" font-size="7.3" text-anchor="end" fill="#161616" stroke="#161616" stroke-width="0.22">2</text>
<line x1="369.20" y1="244.34" x2="371.50" y2="244.34" stroke="#161616" stroke-width="0.9"/>
<text x="368.50" y="246.94" font-size="7.3" text-anchor="end" fill="#161616" stroke="#161616" stroke-width="0.22">4</text>
<line x1="369.20" y1="232.76" x2="371.50" y2="232.76" stroke="#161616" stroke-width="0.9"/>
<text x="368.50" y="235.36" font-size="7.3" text-anchor="end" fill="#161616" stroke="#161616" stroke-width="0.22">6</text>
<line x1="369.20" y1="221.18" x2="371.50" y2="221.18" stroke="#161616" stroke-width="0.9"/>
<text x="368.50" y="223.78" font-size="7.3" text-anchor="end" fill="#161616" stroke="#161616" stroke-width="0.22">8</text>
<line x1="369.20" y1="209.60" x2="371.50" y2="209.60" stroke="#161616" stroke-width="0.9"/>
<text x="368.50" y="212.20" font-size="7.3" text-anchor="end" fill="#161616" stroke="#161616" stroke-width="0.22">10</text>
<line x1="371.50" y1="267.50" x2="403.90" y2="267.50" stroke="#161616" stroke-width="0.9"/>
<line x1="410.40" y1="267.50" x2="457.50" y2="267.50" stroke="#161616" stroke-width="0.9"/>
<line x1="403.10" y1="269.30" x2="405.50" y2="265.70" stroke="#161616" stroke-width="0.8"/>
<line x1="408.20" y1="269.30" x2="410.60" y2="265.70" stroke="#161616" stroke-width="0.8"/>
<line x1="426.60" y1="267.50" x2="426.60" y2="269.80" stroke="#161616" stroke-width="0.9"/>
<line x1="457.50" y1="267.50" x2="457.50" y2="269.80" stroke="#161616" stroke-width="0.9"/>
<line x1="371.50" y1="267.50" x2="371.50" y2="269.80" stroke="#161616" stroke-width="0.9"/>
<text x="371.50" y="277.50" font-size="7.3" text-anchor="middle" fill="#161616" stroke="#161616" stroke-width="0.22">-853</text>
<text x="404.00" y="277.50" font-size="7.3" text-anchor="middle" fill="#161616" stroke="#161616" stroke-width="0.22">-600</text>
<text x="426.60" y="277.50" font-size="7.3" text-anchor="middle" fill="#161616" stroke="#161616" stroke-width="0.22">0</text>
<text x="457.50" y="277.50" font-size="7.3" text-anchor="middle" fill="#161616" stroke="#161616" stroke-width="0.22">70</text>
<path d="M371.50,255.92 L374.00,255.92 L375.30,220.02 L380.80,243.76 L387.80,247.81 L393.60,246.37 L398.80,255.92" fill="none" stroke="#b9bb4c" stroke-width="0.9"/>
<line x1="398.80" y1="255.92" x2="457.50" y2="255.92" stroke="#b9bb4c" stroke-width="0.8"/>
<path d="M369.70,254.49L373.30,254.49L371.50,257.64Z" fill="#a2a820"/>
<path d="M372.20,254.49L375.80,254.49L374.00,257.64Z" fill="#a2a820"/>
<path d="M373.50,218.60L377.10,218.60L375.30,221.75Z" fill="#a2a820"/>
<path d="M379.00,242.34L382.60,242.34L380.80,245.49Z" fill="#a2a820"/>
<path d="M386.00,246.39L389.60,246.39L387.80,249.54Z" fill="#a2a820"/>
<path d="M391.80,244.94L395.40,244.94L393.60,248.09Z" fill="#a2a820"/>
<path d="M397.00,254.49L400.60,254.49L398.80,257.64Z" fill="#a2a820"/>
<path d="M397.00,254.49L400.60,254.49L398.80,257.64Z" fill="#a2a820"/>
<path d="M400.60,254.49L404.20,254.49L402.40,257.64Z" fill="#a2a820"/>
<path d="M406.90,254.49L410.50,254.49L408.70,257.64Z" fill="#a2a820"/>
<path d="M413.20,254.49L416.80,254.49L415.00,257.64Z" fill="#a2a820"/>
<path d="M416.03,254.49L419.63,254.49L417.83,257.64Z" fill="#a2a820"/>
<path d="M418.87,254.49L422.47,254.49L420.67,257.64Z" fill="#a2a820"/>
<path d="M421.70,254.49L425.30,254.49L423.50,257.64Z" fill="#a2a820"/>
<path d="M424.53,254.49L428.13,254.49L426.33,257.64Z" fill="#a2a820"/>
<path d="M427.37,254.49L430.97,254.49L429.17,257.64Z" fill="#a2a820"/>
<path d="M430.20,254.49L433.80,254.49L432.00,257.64Z" fill="#a2a820"/>
<path d="M433.03,254.49L436.63,254.49L434.83,257.64Z" fill="#a2a820"/>
<path d="M435.87,254.49L439.47,254.49L437.67,257.64Z" fill="#a2a820"/>
<path d="M438.70,254.49L442.30,254.49L440.50,257.64Z" fill="#a2a820"/>
<path d="M441.53,254.49L445.13,254.49L443.33,257.64Z" fill="#a2a820"/>
<path d="M444.37,254.49L447.97,254.49L446.17,257.64Z" fill="#a2a820"/>
<path d="M447.20,254.49L450.80,254.49L449.00,257.64Z" fill="#a2a820"/>
<path d="M450.03,254.49L453.63,254.49L451.83,257.64Z" fill="#a2a820"/>
<path d="M452.87,254.49L456.47,254.49L454.67,257.64Z" fill="#a2a820"/>
<path d="M455.70,254.49L459.30,254.49L457.50,257.64Z" fill="#a2a820"/>
<g style="mix-blend-mode:multiply">
<rect x="0.00" y="208.40" width="168.00" height="8.30" fill="#f6fcfd" stroke="none" stroke-width="1" rx="0"/>
<rect x="41.00" y="208.60" width="95.00" height="7.40" fill="#e9f8fa" stroke="none" stroke-width="1" rx="0"/>
<text x="43.80" y="215.20" font-size="8.0" text-anchor="start" fill="#f9d2e4" textLength="87.20" lengthAdjust="spacingAndGlyphs">NAM+GS-9620 group</text>
<line x1="0.00" y1="216.60" x2="168.00" y2="216.60" stroke="#fadbe9" stroke-width="0.8"/>
<line x1="0.00" y1="238.20" x2="168.00" y2="238.20" stroke="#fadbe9" stroke-width="0.8"/>
<line x1="0.00" y1="250.30" x2="168.00" y2="250.30" stroke="#fadbe9" stroke-width="0.8"/>
<rect x="0.00" y="217.60" width="168.00" height="5.50" fill="#f6fcfd" stroke="none" stroke-width="1" rx="0"/>
<rect x="0.00" y="241.80" width="168.00" height="8.00" fill="#f6fcfd" stroke="none" stroke-width="1" rx="0"/>
<rect x="168.5" y="208.0" width="65" height="8.599999999999994" rx="3" fill="none" stroke="#fbe2ed" stroke-width="0.7"/>
<rect x="168.5" y="223.5" width="65" height="6.900000000000006" rx="3" fill="none" stroke="#fbe2ed" stroke-width="0.7"/>
<rect x="168.5" y="241.6" width="65" height="7.800000000000011" rx="3" fill="none" stroke="#fbe2ed" stroke-width="0.7"/>
<rect x="168.5" y="250.3" width="65" height="10.199999999999989" rx="3" fill="none" stroke="#fbe2ed" stroke-width="0.7"/>
<rect x="169.00" y="216.80" width="64.00" height="6.50" fill="#f6fcfd" stroke="none" stroke-width="1" rx="0"/>
<rect x="44.60" y="271.00" width="44.00" height="9.00" fill="#eefafc" stroke="none" stroke-width="1" rx="0"/>
<line x1="43.60" y1="273.00" x2="43.60" y2="279.60" stroke="#f7c4dc" stroke-width="0.9"/>
<line x1="51.10" y1="273.00" x2="51.10" y2="279.60" stroke="#f7c4dc" stroke-width="0.9"/>
<line x1="58.60" y1="273.00" x2="58.60" y2="279.60" stroke="#f7c4dc" stroke-width="0.9"/>
<line x1="66.10" y1="273.00" x2="66.10" y2="279.60" stroke="#f7c4dc" stroke-width="0.9"/>
<line x1="73.60" y1="273.00" x2="73.60" y2="279.60" stroke="#f7c4dc" stroke-width="0.9"/>
<line x1="81.10" y1="273.00" x2="81.10" y2="279.60" stroke="#f7c4dc" stroke-width="0.9"/>
</g>
<text x="247.80" y="294.50" font-size="8.2" text-anchor="middle" fill="#161616" stroke="#161616" stroke-width="0.22">Days</text>
<rect x="94.60" y="326.80" width="30.80" height="57.40" fill="#f1f1f2" stroke="#a8a8a8" stroke-width="0.6" rx="0"/>
<line x1="94.60" y1="326.30" x2="125.40" y2="326.30" stroke="#2a2a2a" stroke-width="0.8"/>
<line x1="94.60" y1="325.80" x2="94.60" y2="329.30" stroke="#161616" stroke-width="0.9"/>
<line x1="125.40" y1="325.80" x2="125.40" y2="329.30" stroke="#161616" stroke-width="0.9"/>
<text x="107.80" y="322.70" font-size="6.6" text-anchor="middle" fill="#161616" stroke="#161616" stroke-width="0.22" textLength="43.94" lengthAdjust="spacingAndGlyphs">NAM+GS-9620</text>
<text x="80.60" y="311.00" font-size="8.0" text-anchor="middle" fill="#161616" stroke="#161616" stroke-width="0.22">GSNAM-1</text>
<line x1="38.40" y1="325.80" x2="38.40" y2="384.70" stroke="#3a3a3a" stroke-width="1.0"/>
<line x1="36.10" y1="384.20" x2="38.40" y2="384.20" stroke="#161616" stroke-width="0.9"/>
<text x="35.40" y="386.80" font-size="7.3" text-anchor="end" fill="#161616" stroke="#161616" stroke-width="0.22">0</text>
<line x1="36.10" y1="372.62" x2="38.40" y2="372.62" stroke="#161616" stroke-width="0.9"/>
<text x="35.40" y="375.22" font-size="7.3" text-anchor="end" fill="#161616" stroke="#161616" stroke-width="0.22">2</text>
<line x1="36.10" y1="361.04" x2="38.40" y2="361.04" stroke="#161616" stroke-width="0.9"/>
<text x="35.40" y="363.64" font-size="7.3" text-anchor="end" fill="#161616" stroke="#161616" stroke-width="0.22">4</text>
<line x1="36.10" y1="349.46" x2="38.40" y2="349.46" stroke="#161616" stroke-width="0.9"/>
<text x="35.40" y="352.06" font-size="7.3" text-anchor="end" fill="#161616" stroke="#161616" stroke-width="0.22">6</text>
<line x1="36.10" y1="337.88" x2="38.40" y2="337.88" stroke="#161616" stroke-width="0.9"/>
<text x="35.40" y="340.48" font-size="7.3" text-anchor="end" fill="#161616" stroke="#161616" stroke-width="0.22">8</text>
<line x1="36.10" y1="326.30" x2="38.40" y2="326.30" stroke="#161616" stroke-width="0.9"/>
<text x="35.40" y="328.90" font-size="7.3" text-anchor="end" fill="#161616" stroke="#161616" stroke-width="0.22">10</text>
<line x1="38.40" y1="384.20" x2="70.80" y2="384.20" stroke="#161616" stroke-width="0.9"/>
<line x1="77.30" y1="384.20" x2="125.40" y2="384.20" stroke="#161616" stroke-width="0.9"/>
<line x1="70.00" y1="386.00" x2="72.40" y2="382.40" stroke="#161616" stroke-width="0.8"/>
<line x1="75.10" y1="386.00" x2="77.50" y2="382.40" stroke="#161616" stroke-width="0.8"/>
<line x1="94.60" y1="384.20" x2="94.60" y2="386.50" stroke="#161616" stroke-width="0.9"/>
<line x1="125.40" y1="384.20" x2="125.40" y2="386.50" stroke="#161616" stroke-width="0.9"/>
<line x1="38.40" y1="384.20" x2="38.40" y2="386.50" stroke="#161616" stroke-width="0.9"/>
<text x="38.40" y="394.20" font-size="7.3" text-anchor="middle" fill="#161616" stroke="#161616" stroke-width="0.22">-853</text>
<text x="70.90" y="394.20" font-size="7.3" text-anchor="middle" fill="#161616" stroke="#161616" stroke-width="0.22">-600</text>
<text x="94.60" y="394.20" font-size="7.3" text-anchor="middle" fill="#161616" stroke="#161616" stroke-width="0.22">0</text>
<text x="125.40" y="394.20" font-size="7.3" text-anchor="middle" fill="#161616" stroke="#161616" stroke-width="0.22">70</text>
<path d="M38.40,372.62 L41.30,348.30 L44.40,360.46 L44.60,372.62" fill="none" stroke="#b25a48" stroke-width="0.9"/>
<line x1="44.60" y1="372.62" x2="125.40" y2="372.62" stroke="#b25a48" stroke-width="0.8"/>
<circle cx="38.40" cy="372.62" r="1.75" fill="#801c12"/>
<circle cx="41.30" cy="348.30" r="1.75" fill="#801c12"/>
<circle cx="44.40" cy="360.46" r="1.75" fill="#801c12"/>
<circle cx="44.60" cy="372.62" r="1.75" fill="#801c12"/>
<circle cx="44.60" cy="372.62" r="1.75" fill="#801c12"/>
<circle cx="46.06" cy="372.62" r="1.75" fill="#801c12"/>
<circle cx="47.52" cy="372.62" r="1.75" fill="#801c12"/>
<circle cx="48.98" cy="372.62" r="1.75" fill="#801c12"/>
<circle cx="50.44" cy="372.62" r="1.75" fill="#801c12"/>
<circle cx="51.91" cy="372.62" r="1.75" fill="#801c12"/>
<circle cx="53.37" cy="372.62" r="1.75" fill="#801c12"/>
<circle cx="54.83" cy="372.62" r="1.75" fill="#801c12"/>
<circle cx="56.29" cy="372.62" r="1.75" fill="#801c12"/>
<circle cx="57.75" cy="372.62" r="1.75" fill="#801c12"/>
<circle cx="59.21" cy="372.62" r="1.75" fill="#801c12"/>
<circle cx="60.67" cy="372.62" r="1.75" fill="#801c12"/>
<circle cx="62.13" cy="372.62" r="1.75" fill="#801c12"/>
<circle cx="63.59" cy="372.62" r="1.75" fill="#801c12"/>
<circle cx="65.06" cy="372.62" r="1.75" fill="#801c12"/>
<circle cx="66.52" cy="372.62" r="1.75" fill="#801c12"/>
<circle cx="67.98" cy="372.62" r="1.75" fill="#801c12"/>
<circle cx="69.44" cy="372.62" r="1.75" fill="#801c12"/>
<circle cx="70.90" cy="372.62" r="1.75" fill="#801c12"/>
<circle cx="76.20" cy="372.62" r="1.75" fill="#801c12"/>
<circle cx="82.50" cy="372.62" r="1.75" fill="#801c12"/>
<circle cx="85.56" cy="372.62" r="1.75" fill="#801c12"/>
<circle cx="88.63" cy="372.62" r="1.75" fill="#801c12"/>
<circle cx="91.69" cy="372.62" r="1.75" fill="#801c12"/>
<circle cx="94.76" cy="372.62" r="1.75" fill="#801c12"/>
<circle cx="97.82" cy="372.62" r="1.75" fill="#801c12"/>
<circle cx="100.89" cy="372.62" r="1.75" fill="#801c12"/>
<circle cx="103.95" cy="372.62" r="1.75" fill="#801c12"/>
<circle cx="107.01" cy="372.62" r="1.75" fill="#801c12"/>
<circle cx="110.08" cy="372.62" r="1.75" fill="#801c12"/>
<circle cx="113.14" cy="372.62" r="1.75" fill="#801c12"/>
<circle cx="116.21" cy="372.62" r="1.75" fill="#801c12"/>
<circle cx="119.27" cy="372.62" r="1.75" fill="#801c12"/>
<circle cx="122.34" cy="372.62" r="1.75" fill="#801c12"/>
<circle cx="125.40" cy="372.62" r="1.75" fill="#801c12"/>
<rect x="206.20" y="326.80" width="31.30" height="57.40" fill="#f1f1f2" stroke="#a8a8a8" stroke-width="0.6" rx="0"/>
<line x1="206.20" y1="326.30" x2="237.50" y2="326.30" stroke="#2a2a2a" stroke-width="0.8"/>
<line x1="206.20" y1="325.80" x2="206.20" y2="329.30" stroke="#161616" stroke-width="0.9"/>
<line x1="237.50" y1="325.80" x2="237.50" y2="329.30" stroke="#161616" stroke-width="0.9"/>
<text x="220.85" y="322.70" font-size="6.6" text-anchor="middle" fill="#161616" stroke="#161616" stroke-width="0.22" textLength="43.94" lengthAdjust="spacingAndGlyphs">NAM+GS-9620</text>
<text x="193.25" y="311.00" font-size="8.0" text-anchor="middle" fill="#161616" stroke="#161616" stroke-width="0.22">GSNAM-2</text>
<line x1="150.75" y1="325.80" x2="150.75" y2="384.70" stroke="#3a3a3a" stroke-width="1.0"/>
<line x1="148.45" y1="384.20" x2="150.75" y2="384.20" stroke="#161616" stroke-width="0.9"/>
<text x="147.75" y="386.80" font-size="7.3" text-anchor="end" fill="#161616" stroke="#161616" stroke-width="0.22">0</text>
<line x1="148.45" y1="372.62" x2="150.75" y2="372.62" stroke="#161616" stroke-width="0.9"/>
<text x="147.75" y="375.22" font-size="7.3" text-anchor="end" fill="#161616" stroke="#161616" stroke-width="0.22">2</text>
<line x1="148.45" y1="361.04" x2="150.75" y2="361.04" stroke="#161616" stroke-width="0.9"/>
<text x="147.75" y="363.64" font-size="7.3" text-anchor="end" fill="#161616" stroke="#161616" stroke-width="0.22">4</text>
<line x1="148.45" y1="349.46" x2="150.75" y2="349.46" stroke="#161616" stroke-width="0.9"/>
<text x="147.75" y="352.06" font-size="7.3" text-anchor="end" fill="#161616" stroke="#161616" stroke-width="0.22">6</text>
<line x1="148.45" y1="337.88" x2="150.75" y2="337.88" stroke="#161616" stroke-width="0.9"/>
<text x="147.75" y="340.48" font-size="7.3" text-anchor="end" fill="#161616" stroke="#161616" stroke-width="0.22">8</text>
<line x1="148.45" y1="326.30" x2="150.75" y2="326.30" stroke="#161616" stroke-width="0.9"/>
<text x="147.75" y="328.90" font-size="7.3" text-anchor="end" fill="#161616" stroke="#161616" stroke-width="0.22">10</text>
<line x1="150.75" y1="384.20" x2="183.15" y2="384.20" stroke="#161616" stroke-width="0.9"/>
<line x1="189.65" y1="384.20" x2="237.50" y2="384.20" stroke="#161616" stroke-width="0.9"/>
<line x1="182.35" y1="386.00" x2="184.75" y2="382.40" stroke="#161616" stroke-width="0.8"/>
<line x1="187.45" y1="386.00" x2="189.85" y2="382.40" stroke="#161616" stroke-width="0.8"/>
<line x1="206.20" y1="384.20" x2="206.20" y2="386.50" stroke="#161616" stroke-width="0.9"/>
<line x1="237.50" y1="384.20" x2="237.50" y2="386.50" stroke="#161616" stroke-width="0.9"/>
<line x1="150.75" y1="384.20" x2="150.75" y2="386.50" stroke="#161616" stroke-width="0.9"/>
<text x="150.75" y="394.20" font-size="7.3" text-anchor="middle" fill="#161616" stroke="#161616" stroke-width="0.22">-853</text>
<text x="183.25" y="394.20" font-size="7.3" text-anchor="middle" fill="#161616" stroke="#161616" stroke-width="0.22">-600</text>
<text x="206.20" y="394.20" font-size="7.3" text-anchor="middle" fill="#161616" stroke="#161616" stroke-width="0.22">0</text>
<text x="237.50" y="394.20" font-size="7.3" text-anchor="middle" fill="#161616" stroke="#161616" stroke-width="0.22">70</text>
<path d="M150.75,372.62 L153.20,334.41 L154.30,337.88 L158.00,352.36 L163.30,356.99 L173.00,372.62" fill="none" stroke="#b25a48" stroke-width="0.9"/>
<line x1="173.00" y1="372.62" x2="237.50" y2="372.62" stroke="#b25a48" stroke-width="0.8"/>
<rect x="149.10" y="370.97" width="3.30" height="3.30" fill="#801c12"/>
<rect x="151.55" y="332.76" width="3.30" height="3.30" fill="#801c12"/>
<rect x="152.65" y="336.23" width="3.30" height="3.30" fill="#801c12"/>
<rect x="156.35" y="350.71" width="3.30" height="3.30" fill="#801c12"/>
<rect x="161.65" y="355.34" width="3.30" height="3.30" fill="#801c12"/>
<rect x="171.35" y="370.97" width="3.30" height="3.30" fill="#801c12"/>
<rect x="171.35" y="370.97" width="3.30" height="3.30" fill="#801c12"/>
<rect x="174.35" y="370.97" width="3.30" height="3.30" fill="#801c12"/>
<rect x="177.35" y="370.97" width="3.30" height="3.30" fill="#801c12"/>
<rect x="180.35" y="370.97" width="3.30" height="3.30" fill="#801c12"/>
<rect x="187.05" y="370.97" width="3.30" height="3.30" fill="#801c12"/>
<rect x="192.15" y="370.97" width="3.30" height="3.30" fill="#801c12"/>
<rect x="193.66" y="370.97" width="3.30" height="3.30" fill="#801c12"/>
<rect x="195.16" y="370.97" width="3.30" height="3.30" fill="#801c12"/>
<rect x="196.67" y="370.97" width="3.30" height="3.30" fill="#801c12"/>
<rect x="198.18" y="370.97" width="3.30" height="3.30" fill="#801c12"/>
<rect x="199.68" y="370.97" width="3.30" height="3.30" fill="#801c12"/>
<rect x="201.19" y="370.97" width="3.30" height="3.30" fill="#801c12"/>
<rect x="202.70" y="370.97" width="3.30" height="3.30" fill="#801c12"/>
<rect x="204.21" y="370.97" width="3.30" height="3.30" fill="#801c12"/>
<rect x="205.71" y="370.97" width="3.30" height="3.30" fill="#801c12"/>
<rect x="207.22" y="370.97" width="3.30" height="3.30" fill="#801c12"/>
<rect x="208.73" y="370.97" width="3.30" height="3.30" fill="#801c12"/>
<rect x="210.23" y="370.97" width="3.30" height="3.30" fill="#801c12"/>
<rect x="211.74" y="370.97" width="3.30" height="3.30" fill="#801c12"/>
<rect x="213.25" y="370.97" width="3.30" height="3.30" fill="#801c12"/>
<rect x="214.75" y="370.97" width="3.30" height="3.30" fill="#801c12"/>
<rect x="216.26" y="370.97" width="3.30" height="3.30" fill="#801c12"/>
<rect x="217.77" y="370.97" width="3.30" height="3.30" fill="#801c12"/>
<rect x="219.27" y="370.97" width="3.30" height="3.30" fill="#801c12"/>
<rect x="220.78" y="370.97" width="3.30" height="3.30" fill="#801c12"/>
<rect x="222.29" y="370.97" width="3.30" height="3.30" fill="#801c12"/>
<rect x="223.79" y="370.97" width="3.30" height="3.30" fill="#801c12"/>
<rect x="225.30" y="370.97" width="3.30" height="3.30" fill="#801c12"/>
<rect x="226.81" y="370.97" width="3.30" height="3.30" fill="#801c12"/>
<rect x="228.32" y="370.97" width="3.30" height="3.30" fill="#801c12"/>
<rect x="229.82" y="370.97" width="3.30" height="3.30" fill="#801c12"/>
<rect x="231.33" y="370.97" width="3.30" height="3.30" fill="#801c12"/>
<rect x="232.84" y="370.97" width="3.30" height="3.30" fill="#801c12"/>
<rect x="234.34" y="370.97" width="3.30" height="3.30" fill="#801c12"/>
<rect x="235.85" y="370.97" width="3.30" height="3.30" fill="#801c12"/>
<rect x="318.30" y="326.80" width="31.00" height="57.40" fill="#f1f1f2" stroke="#a8a8a8" stroke-width="0.6" rx="0"/>
<line x1="318.30" y1="326.30" x2="349.30" y2="326.30" stroke="#2a2a2a" stroke-width="0.8"/>
<line x1="318.30" y1="325.80" x2="318.30" y2="329.30" stroke="#161616" stroke-width="0.9"/>
<line x1="349.30" y1="325.80" x2="349.30" y2="329.30" stroke="#161616" stroke-width="0.9"/>
<text x="332.80" y="322.70" font-size="6.6" text-anchor="middle" fill="#161616" stroke="#161616" stroke-width="0.22" textLength="43.94" lengthAdjust="spacingAndGlyphs">NAM+GS-9620</text>
<text x="305.50" y="311.00" font-size="8.0" text-anchor="middle" fill="#161616" stroke="#161616" stroke-width="0.22">GSNAM-3</text>
<line x1="263.00" y1="325.80" x2="263.00" y2="384.70" stroke="#3a3a3a" stroke-width="1.0"/>
<line x1="260.70" y1="384.20" x2="263.00" y2="384.20" stroke="#161616" stroke-width="0.9"/>
<text x="260.00" y="386.80" font-size="7.3" text-anchor="end" fill="#161616" stroke="#161616" stroke-width="0.22">0</text>
<line x1="260.70" y1="372.62" x2="263.00" y2="372.62" stroke="#161616" stroke-width="0.9"/>
<text x="260.00" y="375.22" font-size="7.3" text-anchor="end" fill="#161616" stroke="#161616" stroke-width="0.22">2</text>
<line x1="260.70" y1="361.04" x2="263.00" y2="361.04" stroke="#161616" stroke-width="0.9"/>
<text x="260.00" y="363.64" font-size="7.3" text-anchor="end" fill="#161616" stroke="#161616" stroke-width="0.22">4</text>
<line x1="260.70" y1="349.46" x2="263.00" y2="349.46" stroke="#161616" stroke-width="0.9"/>
<text x="260.00" y="352.06" font-size="7.3" text-anchor="end" fill="#161616" stroke="#161616" stroke-width="0.22">6</text>
<line x1="260.70" y1="337.88" x2="263.00" y2="337.88" stroke="#161616" stroke-width="0.9"/>
<text x="260.00" y="340.48" font-size="7.3" text-anchor="end" fill="#161616" stroke="#161616" stroke-width="0.22">8</text>
<line x1="260.70" y1="326.30" x2="263.00" y2="326.30" stroke="#161616" stroke-width="0.9"/>
<text x="260.00" y="328.90" font-size="7.3" text-anchor="end" fill="#161616" stroke="#161616" stroke-width="0.22">10</text>
<line x1="263.00" y1="384.20" x2="295.40" y2="384.20" stroke="#161616" stroke-width="0.9"/>
<line x1="301.90" y1="384.20" x2="349.30" y2="384.20" stroke="#161616" stroke-width="0.9"/>
<line x1="294.60" y1="386.00" x2="297.00" y2="382.40" stroke="#161616" stroke-width="0.8"/>
<line x1="299.70" y1="386.00" x2="302.10" y2="382.40" stroke="#161616" stroke-width="0.8"/>
<line x1="318.30" y1="384.20" x2="318.30" y2="386.50" stroke="#161616" stroke-width="0.9"/>
<line x1="349.30" y1="384.20" x2="349.30" y2="386.50" stroke="#161616" stroke-width="0.9"/>
<line x1="263.00" y1="384.20" x2="263.00" y2="386.50" stroke="#161616" stroke-width="0.9"/>
<text x="263.00" y="394.20" font-size="7.3" text-anchor="middle" fill="#161616" stroke="#161616" stroke-width="0.22">-853</text>
<text x="295.50" y="394.20" font-size="7.3" text-anchor="middle" fill="#161616" stroke="#161616" stroke-width="0.22">-600</text>
<text x="318.30" y="394.20" font-size="7.3" text-anchor="middle" fill="#161616" stroke="#161616" stroke-width="0.22">0</text>
<text x="349.30" y="394.20" font-size="7.3" text-anchor="middle" fill="#161616" stroke="#161616" stroke-width="0.22">70</text>
<path d="M263.00,372.62 L265.00,372.62 L267.00,337.30 L269.50,357.57 L277.00,372.62" fill="none" stroke="#b25a48" stroke-width="0.9"/>
<line x1="277.00" y1="372.62" x2="349.30" y2="372.62" stroke="#b25a48" stroke-width="0.8"/>
<path d="M261.20,374.05L264.80,374.05L263.00,370.89Z" fill="#801c12"/>
<path d="M263.20,374.05L266.80,374.05L265.00,370.89Z" fill="#801c12"/>
<path d="M265.20,338.73L268.80,338.73L267.00,335.58Z" fill="#801c12"/>
<path d="M267.70,358.99L271.30,358.99L269.50,355.84Z" fill="#801c12"/>
<path d="M275.20,374.05L278.80,374.05L277.00,370.89Z" fill="#801c12"/>
<path d="M275.20,374.05L278.80,374.05L277.00,370.89Z" fill="#801c12"/>
<path d="M277.70,374.05L281.30,374.05L279.50,370.89Z" fill="#801c12"/>
<path d="M280.20,374.05L283.80,374.05L282.00,370.89Z" fill="#801c12"/>
<path d="M282.70,374.05L286.30,374.05L284.50,370.89Z" fill="#801c12"/>
<path d="M285.20,374.05L288.80,374.05L287.00,370.89Z" fill="#801c12"/>
<path d="M287.70,374.05L291.30,374.05L289.50,370.89Z" fill="#801c12"/>
<path d="M290.20,374.05L293.80,374.05L292.00,370.89Z" fill="#801c12"/>
<path d="M292.70,374.05L296.30,374.05L294.50,370.89Z" fill="#801c12"/>
<path d="M298.20,374.05L301.80,374.05L300.00,370.89Z" fill="#801c12"/>
<path d="M304.50,374.05L308.10,374.05L306.30,370.89Z" fill="#801c12"/>
<path d="M307.37,374.05L310.97,374.05L309.17,370.89Z" fill="#801c12"/>
<path d="M310.23,374.05L313.83,374.05L312.03,370.89Z" fill="#801c12"/>
<path d="M313.10,374.05L316.70,374.05L314.90,370.89Z" fill="#801c12"/>
<path d="M315.97,374.05L319.57,374.05L317.77,370.89Z" fill="#801c12"/>
<path d="M318.83,374.05L322.43,374.05L320.63,370.89Z" fill="#801c12"/>
<path d="M321.70,374.05L325.30,374.05L323.50,370.89Z" fill="#801c12"/>
<path d="M324.57,374.05L328.17,374.05L326.37,370.89Z" fill="#801c12"/>
<path d="M327.43,374.05L331.03,374.05L329.23,370.89Z" fill="#801c12"/>
<path d="M330.30,374.05L333.90,374.05L332.10,370.89Z" fill="#801c12"/>
<path d="M333.17,374.05L336.77,374.05L334.97,370.89Z" fill="#801c12"/>
<path d="M336.03,374.05L339.63,374.05L337.83,370.89Z" fill="#801c12"/>
<path d="M338.90,374.05L342.50,374.05L340.70,370.89Z" fill="#801c12"/>
<path d="M341.77,374.05L345.37,374.05L343.57,370.89Z" fill="#801c12"/>
<path d="M344.63,374.05L348.23,374.05L346.43,370.89Z" fill="#801c12"/>
<path d="M347.50,374.05L351.10,374.05L349.30,370.89Z" fill="#801c12"/>
<path d="M339.80,372.62 L341.30,362.20 L342.80,372.62" fill="none" stroke="#b25a48" stroke-width="0.9"/>
<path d="M339.50,363.62L343.10,363.62L341.30,360.47Z" fill="#801c12"/>
<rect x="426.50" y="326.80" width="30.80" height="57.40" fill="#f1f1f2" stroke="#a8a8a8" stroke-width="0.6" rx="0"/>
<line x1="426.50" y1="326.30" x2="457.30" y2="326.30" stroke="#2a2a2a" stroke-width="0.8"/>
<line x1="426.50" y1="325.80" x2="426.50" y2="329.30" stroke="#161616" stroke-width="0.9"/>
<line x1="457.30" y1="325.80" x2="457.30" y2="329.30" stroke="#161616" stroke-width="0.9"/>
<text x="441.90" y="322.70" font-size="6.6" text-anchor="middle" fill="#161616" stroke="#161616" stroke-width="0.22" textLength="43.94" lengthAdjust="spacingAndGlyphs">NAM+GS-9620</text>
<text x="419.60" y="311.00" font-size="8.0" text-anchor="middle" fill="#161616" stroke="#161616" stroke-width="0.22">GSNAM-4</text>
<line x1="370.75" y1="325.80" x2="370.75" y2="384.70" stroke="#3a3a3a" stroke-width="1.0"/>
<line x1="368.45" y1="384.20" x2="370.75" y2="384.20" stroke="#161616" stroke-width="0.9"/>
<text x="367.75" y="386.80" font-size="7.3" text-anchor="end" fill="#161616" stroke="#161616" stroke-width="0.22">0</text>
<line x1="368.45" y1="372.62" x2="370.75" y2="372.62" stroke="#161616" stroke-width="0.9"/>
<text x="367.75" y="375.22" font-size="7.3" text-anchor="end" fill="#161616" stroke="#161616" stroke-width="0.22">2</text>
<line x1="368.45" y1="361.04" x2="370.75" y2="361.04" stroke="#161616" stroke-width="0.9"/>
<text x="367.75" y="363.64" font-size="7.3" text-anchor="end" fill="#161616" stroke="#161616" stroke-width="0.22">4</text>
<line x1="368.45" y1="349.46" x2="370.75" y2="349.46" stroke="#161616" stroke-width="0.9"/>
<text x="367.75" y="352.06" font-size="7.3" text-anchor="end" fill="#161616" stroke="#161616" stroke-width="0.22">6</text>
<line x1="368.45" y1="337.88" x2="370.75" y2="337.88" stroke="#161616" stroke-width="0.9"/>
<text x="367.75" y="340.48" font-size="7.3" text-anchor="end" fill="#161616" stroke="#161616" stroke-width="0.22">8</text>
<line x1="368.45" y1="326.30" x2="370.75" y2="326.30" stroke="#161616" stroke-width="0.9"/>
<text x="367.75" y="328.90" font-size="7.3" text-anchor="end" fill="#161616" stroke="#161616" stroke-width="0.22">10</text>
<line x1="370.75" y1="384.20" x2="403.15" y2="384.20" stroke="#161616" stroke-width="0.9"/>
<line x1="409.65" y1="384.20" x2="457.30" y2="384.20" stroke="#161616" stroke-width="0.9"/>
<line x1="402.35" y1="386.00" x2="404.75" y2="382.40" stroke="#161616" stroke-width="0.8"/>
<line x1="407.45" y1="386.00" x2="409.85" y2="382.40" stroke="#161616" stroke-width="0.8"/>
<line x1="426.50" y1="384.20" x2="426.50" y2="386.50" stroke="#161616" stroke-width="0.9"/>
<line x1="457.30" y1="384.20" x2="457.30" y2="386.50" stroke="#161616" stroke-width="0.9"/>
<line x1="370.75" y1="384.20" x2="370.75" y2="386.50" stroke="#161616" stroke-width="0.9"/>
<text x="370.75" y="394.20" font-size="7.3" text-anchor="middle" fill="#161616" stroke="#161616" stroke-width="0.22">-853</text>
<text x="403.25" y="394.20" font-size="7.3" text-anchor="middle" fill="#161616" stroke="#161616" stroke-width="0.22">-600</text>
<text x="426.50" y="394.20" font-size="7.3" text-anchor="middle" fill="#161616" stroke="#161616" stroke-width="0.22">0</text>
<text x="457.30" y="394.20" font-size="7.3" text-anchor="middle" fill="#161616" stroke="#161616" stroke-width="0.22">70</text>
<path d="M370.75,372.62 L371.50,339.04 L373.30,340.20 L374.50,354.67 L382.00,359.30 L385.30,359.30 L393.30,363.36 L396.50,372.62" fill="none" stroke="#b25a48" stroke-width="0.9"/>
<line x1="396.50" y1="372.62" x2="457.30" y2="372.62" stroke="#b25a48" stroke-width="0.8"/>
<path d="M368.95,371.19L372.55,371.19L370.75,374.35Z" fill="#801c12"/>
<path d="M369.70,337.61L373.30,337.61L371.50,340.76Z" fill="#801c12"/>
<path d="M371.50,338.77L375.10,338.77L373.30,341.92Z" fill="#801c12"/>
<path d="M372.70,353.25L376.30,353.25L374.50,356.40Z" fill="#801c12"/>
<path d="M380.20,357.88L383.80,357.88L382.00,361.03Z" fill="#801c12"/>
<path d="M383.50,357.88L387.10,357.88L385.30,361.03Z" fill="#801c12"/>
<path d="M391.50,361.93L395.10,361.93L393.30,365.08Z" fill="#801c12"/>
<path d="M394.70,371.19L398.30,371.19L396.50,374.35Z" fill="#801c12"/>
<path d="M394.70,371.19L398.30,371.19L396.50,374.35Z" fill="#801c12"/>
<path d="M396.80,371.19L400.40,371.19L398.60,374.35Z" fill="#801c12"/>
<path d="M398.90,371.19L402.50,371.19L400.70,374.35Z" fill="#801c12"/>
<path d="M401.00,371.19L404.60,371.19L402.80,374.35Z" fill="#801c12"/>
<path d="M407.20,371.19L410.80,371.19L409.00,374.35Z" fill="#801c12"/>
<path d="M412.20,371.19L415.80,371.19L414.00,374.35Z" fill="#801c12"/>
<path d="M415.09,371.19L418.69,371.19L416.89,374.35Z" fill="#801c12"/>
<path d="M417.97,371.19L421.57,371.19L419.77,374.35Z" fill="#801c12"/>
<path d="M420.86,371.19L424.46,371.19L422.66,374.35Z" fill="#801c12"/>
<path d="M423.75,371.19L427.35,371.19L425.55,374.35Z" fill="#801c12"/>
<path d="M426.63,371.19L430.23,371.19L428.43,374.35Z" fill="#801c12"/>
<path d="M429.52,371.19L433.12,371.19L431.32,374.35Z" fill="#801c12"/>
<path d="M432.41,371.19L436.01,371.19L434.21,374.35Z" fill="#801c12"/>
<path d="M435.29,371.19L438.89,371.19L437.09,374.35Z" fill="#801c12"/>
<path d="M438.18,371.19L441.78,371.19L439.98,374.35Z" fill="#801c12"/>
<path d="M441.07,371.19L444.67,371.19L442.87,374.35Z" fill="#801c12"/>
<path d="M443.95,371.19L447.55,371.19L445.75,374.35Z" fill="#801c12"/>
<path d="M446.84,371.19L450.44,371.19L448.64,374.35Z" fill="#801c12"/>
<path d="M449.73,371.19L453.33,371.19L451.53,374.35Z" fill="#801c12"/>
<path d="M452.61,371.19L456.21,371.19L454.41,374.35Z" fill="#801c12"/>
<path d="M455.50,371.19L459.10,371.19L457.30,374.35Z" fill="#801c12"/>
<path d="M445.80,372.62 L447.30,360.46 L448.80,372.62" fill="none" stroke="#b25a48" stroke-width="0.9"/>
<path d="M445.50,359.04L449.10,359.04L447.30,362.19Z" fill="#801c12"/>
<g style="mix-blend-mode:multiply">
<rect x="39.60" y="344.00" width="8.40" height="26.00" fill="#fdeff3" stroke="none" stroke-width="1" rx="0"/>
<rect x="38.00" y="368.00" width="89.00" height="6.70" fill="#fdeff3" stroke="none" stroke-width="1" rx="0"/>
<rect x="150.40" y="328.40" width="9.40" height="48.00" fill="#fdeff3" stroke="none" stroke-width="1" rx="0"/>
<rect x="159.80" y="352.40" width="7.30" height="24.00" fill="#fdeff3" stroke="none" stroke-width="1" rx="0"/>
<rect x="168.20" y="368.00" width="71.80" height="8.40" fill="#fdeff3" stroke="none" stroke-width="1" rx="0"/>
<rect x="264.90" y="335.30" width="6.80" height="40.00" fill="#fdeff3" stroke="none" stroke-width="1" rx="0"/>
<rect x="271.70" y="368.00" width="78.80" height="7.30" fill="#fdeff3" stroke="none" stroke-width="1" rx="0"/>
<rect x="367.00" y="336.70" width="7.40" height="16.70" fill="#fdeff3" stroke="none" stroke-width="1" rx="0"/>
<rect x="392.00" y="369.00" width="67.00" height="6.30" fill="#fdeff3" stroke="none" stroke-width="1" rx="0"/>
</g>
<text transform="translate(15.80,239.60) rotate(-90)" x="0" y="0" font-size="8.4" text-anchor="middle" fill="#161616" stroke="#161616" stroke-width="0.22" textLength="70.00" lengthAdjust="spacingAndGlyphs">Lg vRNA in plasma</text>
<text transform="translate(24.40,239.60) rotate(-90)" x="0" y="0" font-size="8.0" text-anchor="middle" fill="#161616" stroke="#161616" stroke-width="0.22" textLength="42.60" lengthAdjust="spacingAndGlyphs">(copies/mL)</text>
<text transform="translate(14.80,355.00) rotate(-90)" x="0" y="0" font-size="8.4" text-anchor="middle" fill="#161616" stroke="#161616" stroke-width="0.22" textLength="70.00" lengthAdjust="spacingAndGlyphs">Lg vRNA in plasma</text>
<text transform="translate(23.40,355.00) rotate(-90)" x="0" y="0" font-size="8.0" text-anchor="middle" fill="#161616" stroke="#161616" stroke-width="0.22" textLength="42.60" lengthAdjust="spacingAndGlyphs">(copies/mL)</text>
<text x="5.00" y="432.80" font-size="12.2" text-anchor="start" fill="#111" stroke="#111" stroke-width="0.22">C</text>
<text x="45.40" y="444.00" font-size="6.3" text-anchor="middle" fill="#161616" stroke="#161616" stroke-width="0.22">GS-9620</text>
<text x="115.00" y="444.00" font-size="6.3" text-anchor="middle" fill="#161616" stroke="#161616" stroke-width="0.22">NAM+GS-9620</text>
<circle cx="47.0" cy="479.8" r="28.9" fill="#c3b9b0" stroke="#5a5550" stroke-width="0.8"/>
<defs><clipPath id="pc"><circle cx="115.2" cy="479.8" r="28.7"/></clipPath></defs>
<circle cx="115.2" cy="479.8" r="30.0" fill="#effcfb"/>
<circle cx="115.2" cy="479.8" r="28.7" fill="#0a5a0a" stroke="#2a3a1a" stroke-width="0.9"/>
<g clip-path="url(#pc)">
<rect x="86.00" y="450.00" width="26.00" height="60.00" fill="#c3b9b0" stroke="none" stroke-width="1" rx="0"/>
<rect x="112.00" y="450.00" width="3.10" height="60.00" fill="#a3bca8" stroke="none" stroke-width="1" rx="0"/>
<rect x="115.10" y="450.00" width="4.40" height="60.00" fill="#2f4812" stroke="none" stroke-width="1" rx="0"/>
</g>
<path d="M115.2,451.1 A28.7,28.7 0 0 0 115.2,508.5" fill="none" stroke="#6a6560" stroke-width="0.8"/>
<text x="46.10" y="520.80" font-size="6.6" text-anchor="middle" fill="#161616" stroke="#161616" stroke-width="0.22">Total=4</text>
<text x="115.50" y="520.80" font-size="6.6" text-anchor="middle" fill="#161616" stroke="#161616" stroke-width="0.22">Total=4</text>
<rect x="19.00" y="529.00" width="6.50" height="6.20" fill="#c3b9b0" stroke="#555" stroke-width="0.5" rx="0"/>
<text x="28.90" y="535.00" font-size="6.8" text-anchor="start" fill="#111" stroke="#111" stroke-width="0.22" textLength="54.40" lengthAdjust="spacingAndGlyphs">Non-rebound (%)</text>
<rect x="93.00" y="529.00" width="6.60" height="6.20" fill="#0f4d0f" stroke="#222" stroke-width="0.5" rx="0"/>
<text x="102.50" y="535.00" font-size="6.8" text-anchor="start" fill="#111" stroke="#111" stroke-width="0.22" textLength="41.90" lengthAdjust="spacingAndGlyphs">Rebound (%)</text>
<text x="157.00" y="432.70" font-size="12.2" text-anchor="start" fill="#111" stroke="#111" stroke-width="0.22">D</text>
<line x1="201.50" y1="435.00" x2="201.50" y2="517.50" stroke="#161616" stroke-width="0.9"/>
<line x1="201.50" y1="517.00" x2="296.50" y2="517.00" stroke="#161616" stroke-width="1.1"/>
<line x1="199.00" y1="517.00" x2="201.50" y2="517.00" stroke="#161616" stroke-width="0.9"/>
<text x="196.90" y="520.30" font-size="9.2" text-anchor="end" fill="#161616" stroke="#161616" stroke-width="0.22">0</text>
<line x1="199.00" y1="500.70" x2="201.50" y2="500.70" stroke="#161616" stroke-width="0.9"/>
<text x="196.90" y="504.00" font-size="9.2" text-anchor="end" fill="#161616" stroke="#161616" stroke-width="0.22">1</text>
<line x1="199.00" y1="484.40" x2="201.50" y2="484.40" stroke="#161616" stroke-width="0.9"/>
<text x="196.90" y="487.70" font-size="9.2" text-anchor="end" fill="#161616" stroke="#161616" stroke-width="0.22">2</text>
<line x1="199.00" y1="468.10" x2="201.50" y2="468.10" stroke="#161616" stroke-width="0.9"/>
<text x="196.90" y="471.40" font-size="9.2" text-anchor="end" fill="#161616" stroke="#161616" stroke-width="0.22">3</text>
<line x1="199.00" y1="451.80" x2="201.50" y2="451.80" stroke="#161616" stroke-width="0.9"/>
<text x="196.90" y="455.10" font-size="9.2" text-anchor="end" fill="#161616" stroke="#161616" stroke-width="0.22">4</text>
<line x1="199.00" y1="435.50" x2="201.50" y2="435.50" stroke="#161616" stroke-width="0.9"/>
<text x="196.90" y="438.80" font-size="9.2" text-anchor="end" fill="#161616" stroke="#161616" stroke-width="0.22">5</text>
<line x1="224.00" y1="517.00" x2="224.00" y2="519.30" stroke="#161616" stroke-width="0.9"/>
<text x="224.00" y="528.90" font-size="8.8" text-anchor="middle" fill="#161616" stroke="#161616" stroke-width="0.22">0d</text>
<line x1="274.00" y1="517.00" x2="274.00" y2="519.30" stroke="#161616" stroke-width="0.9"/>
<text x="274.00" y="528.90" font-size="8.8" text-anchor="middle" fill="#161616" stroke="#161616" stroke-width="0.22">70d</text>
<text transform="translate(173.60,477.10) rotate(-90)" x="0" y="0" font-size="8.2" text-anchor="middle" fill="#161616" stroke="#161616" stroke-width="0.22" textLength="65.00" lengthAdjust="spacingAndGlyphs">Lg vDNA in PBMC</text>
<text transform="translate(182.40,475.30) rotate(-90)" x="0" y="0" font-size="8.2" text-anchor="middle" fill="#161616" stroke="#161616" stroke-width="0.22" textLength="43.00" lengthAdjust="spacingAndGlyphs">(copies/µg)</text>
<rect x="230.00" y="463.00" width="12.00" height="16.00" fill="#fce9ed" stroke="none" stroke-width="1" rx="0"/>
<rect x="277.00" y="462.00" width="18.00" height="24.00" fill="#fdf1f4" stroke="none" stroke-width="1" rx="0"/>
<rect x="208.50" y="472.50" width="12.00" height="44.50" fill="#f3efd2" stroke="#2a2a2a" stroke-width="0.9" rx="0"/>
<rect x="227.50" y="471.50" width="12.00" height="45.50" fill="#f2d2d7" stroke="#2a2a2a" stroke-width="0.9" rx="0"/>
<rect x="258.50" y="478.50" width="13.00" height="38.50" fill="#f3efd2" stroke="#2a2a2a" stroke-width="0.9" rx="0"/>
<rect x="278.50" y="475.50" width="12.00" height="41.50" fill="#f2d2d7" stroke="#2a2a2a" stroke-width="0.9" rx="0"/>
<line x1="214.40" y1="467.10" x2="214.40" y2="476.30" stroke="#333" stroke-width="0.7"/>
<line x1="212.60" y1="467.10" x2="216.20" y2="467.10" stroke="#333" stroke-width="0.7"/>
<line x1="212.60" y1="476.30" x2="216.20" y2="476.30" stroke="#333" stroke-width="0.7"/>
<line x1="233.40" y1="469.50" x2="233.40" y2="474.00" stroke="#333" stroke-width="0.7"/>
<line x1="231.60" y1="469.50" x2="235.20" y2="469.50" stroke="#333" stroke-width="0.7"/>
<line x1="231.60" y1="474.00" x2="235.20" y2="474.00" stroke="#333" stroke-width="0.7"/>
<line x1="265.20" y1="471.00" x2="265.20" y2="483.00" stroke="#333" stroke-width="0.7"/>
<line x1="263.40" y1="471.00" x2="267.00" y2="471.00" stroke="#333" stroke-width="0.7"/>
<line x1="263.40" y1="483.00" x2="267.00" y2="483.00" stroke="#333" stroke-width="0.7"/>
<line x1="284.30" y1="470.00" x2="284.30" y2="480.50" stroke="#333" stroke-width="0.7"/>
<line x1="282.50" y1="470.00" x2="286.10" y2="470.00" stroke="#333" stroke-width="0.7"/>
<line x1="282.50" y1="480.50" x2="286.10" y2="480.50" stroke="#333" stroke-width="0.7"/>
<path d="M207.30,468.10L211.90,468.10L209.60,464.00Z" fill="#a2a820"/>
<circle cx="218.40" cy="463.00" r="2.00" fill="#a2a820"/>
<path d="M211.90,470.50L216.50,470.50L214.20,474.60Z" fill="#a2a820"/>
<rect x="212.20" y="482.30" width="4.00" height="4.00" fill="#a2a820"/>
<path d="M226.90,470.50L231.50,470.50L229.20,474.60Z" fill="#801c12"/>
<circle cx="233.40" cy="470.90" r="2.00" fill="#801c12"/>
<rect x="235.40" y="464.70" width="4.00" height="4.00" fill="#801c12"/>
<circle cx="237.80" cy="473.00" r="2.00" fill="#801c12"/>
<circle cx="260.50" cy="472.40" r="2.00" fill="#a2a820"/>
<path d="M267.00,470.50L271.60,470.50L269.30,474.60Z" fill="#a2a820"/>
<path d="M262.80,480.10L267.40,480.10L265.10,476.00Z" fill="#a2a820"/>
<rect x="263.10" y="487.00" width="4.00" height="4.00" fill="#a2a820"/>
<path d="M281.80,467.40L286.40,467.40L284.10,463.30Z" fill="#801c12"/>
<path d="M281.80,471.50L286.40,471.50L284.10,475.60Z" fill="#801c12"/>
<rect x="278.00" y="480.80" width="4.00" height="4.00" fill="#801c12"/>
<circle cx="288.70" cy="480.70" r="2.00" fill="#801c12"/>
<circle cx="168.80" cy="542.00" r="2.30" fill="#a2a820"/>
<text x="174.60" y="545.20" font-size="7.0" text-anchor="start" fill="#161616" stroke="#161616" stroke-width="0.22" textLength="16.34" lengthAdjust="spacingAndGlyphs">GS-1</text>
<rect x="197.40" y="539.70" width="4.60" height="4.60" fill="#a2a820"/>
<text x="204.90" y="545.20" font-size="7.0" text-anchor="start" fill="#161616" stroke="#161616" stroke-width="0.22" textLength="16.34" lengthAdjust="spacingAndGlyphs">GS-2</text>
<path d="M228.00,544.18L233.20,544.18L230.60,539.52Z" fill="#a2a820"/>
<text x="234.20" y="545.20" font-size="7.0" text-anchor="start" fill="#161616" stroke="#161616" stroke-width="0.22" textLength="16.34" lengthAdjust="spacingAndGlyphs">GS-3</text>
<path d="M255.00,539.82L260.20,539.82L257.60,544.48Z" fill="#a2a820"/>
<text x="262.00" y="545.20" font-size="7.0" text-anchor="start" fill="#161616" stroke="#161616" stroke-width="0.22" textLength="16.34" lengthAdjust="spacingAndGlyphs">GS-4</text>
<circle cx="293.00" cy="542.00" r="2.90" fill="#801c12"/>
<text x="297.00" y="545.20" font-size="7.0" text-anchor="start" fill="#161616" stroke="#161616" stroke-width="0.22" textLength="32.28" lengthAdjust="spacingAndGlyphs">GSNAM-1</text>
<rect x="335.90" y="539.10" width="5.80" height="5.80" fill="#801c12"/>
<text x="343.80" y="545.20" font-size="7.0" text-anchor="start" fill="#161616" stroke="#161616" stroke-width="0.22" textLength="32.28" lengthAdjust="spacingAndGlyphs">GSNAM-2</text>
<path d="M382.00,544.75L388.40,544.75L385.20,538.95Z" fill="#7a4418"/>
<text x="390.20" y="545.20" font-size="7.0" text-anchor="start" fill="#161616" stroke="#161616" stroke-width="0.22" textLength="32.28" lengthAdjust="spacingAndGlyphs">GSNAM-3</text>
<path d="M427.00,539.25L433.40,539.25L430.20,545.05Z" fill="#7a4418"/>
<text x="435.20" y="545.20" font-size="7.0" text-anchor="start" fill="#161616" stroke="#161616" stroke-width="0.22" textLength="32.28" lengthAdjust="spacingAndGlyphs">GSNAM-4</text>
<text x="304.90" y="433.00" font-size="12.2" text-anchor="start" fill="#111" stroke="#111" stroke-width="0.22">E</text>
<line x1="356.30" y1="435.80" x2="356.30" y2="517.60" stroke="#161616" stroke-width="0.9"/>
<line x1="356.30" y1="517.10" x2="449.20" y2="517.10" stroke="#161616" stroke-width="1.1"/>
<line x1="353.80" y1="517.10" x2="356.30" y2="517.10" stroke="#161616" stroke-width="0.9"/>
<text x="351.70" y="520.30" font-size="8.8" text-anchor="end" fill="#161616" stroke="#161616" stroke-width="0.22">0</text>
<line x1="353.80" y1="496.90" x2="356.30" y2="496.90" stroke="#161616" stroke-width="0.9"/>
<text x="351.70" y="500.10" font-size="8.8" text-anchor="end" fill="#161616" stroke="#161616" stroke-width="0.22">5</text>
<line x1="353.80" y1="476.70" x2="356.30" y2="476.70" stroke="#161616" stroke-width="0.9"/>
<text x="351.70" y="479.90" font-size="8.8" text-anchor="end" fill="#161616" stroke="#161616" stroke-width="0.22">10</text>
<line x1="353.80" y1="456.50" x2="356.30" y2="456.50" stroke="#161616" stroke-width="0.9"/>
<text x="351.70" y="459.70" font-size="8.8" text-anchor="end" fill="#161616" stroke="#161616" stroke-width="0.22">15</text>
<line x1="353.80" y1="436.30" x2="356.30" y2="436.30" stroke="#161616" stroke-width="0.9"/>
<text x="351.70" y="439.50" font-size="8.8" text-anchor="end" fill="#161616" stroke="#161616" stroke-width="0.22">20</text>
<line x1="378.20" y1="517.10" x2="378.20" y2="519.40" stroke="#161616" stroke-width="0.9"/>
<text x="378.20" y="528.90" font-size="8.8" text-anchor="middle" fill="#161616" stroke="#161616" stroke-width="0.22">0d</text>
<line x1="428.30" y1="517.10" x2="428.30" y2="519.40" stroke="#161616" stroke-width="0.9"/>
<text x="428.30" y="528.90" font-size="8.8" text-anchor="middle" fill="#161616" stroke="#161616" stroke-width="0.22">70d</text>
<text transform="translate(323.80,473.00) rotate(-90)" x="0" y="0" font-size="8.0" text-anchor="middle" fill="#161616" stroke="#161616" stroke-width="0.22" textLength="94.00" lengthAdjust="spacingAndGlyphs">Infectious units per million</text>
<text transform="translate(334.40,472.50) rotate(-90)" x="0" y="0" font-size="8.0" text-anchor="middle" fill="#161616" stroke="#161616" stroke-width="0.22" textLength="91.00" lengthAdjust="spacingAndGlyphs">resting CD4<tspan font-size="4.5" dy="-2.5">+</tspan><tspan dy="2.5">T cells(IUPM)</tspan></text>
<rect x="380.00" y="509.00" width="17.00" height="8.00" fill="#fdeef1" stroke="none" stroke-width="1" rx="0"/>
<rect x="432.00" y="442.00" width="15.00" height="13.00" fill="#fdf4f6" stroke="none" stroke-width="1" rx="0"/>
<rect x="432.00" y="463.00" width="15.00" height="16.00" fill="#fdf4f6" stroke="none" stroke-width="1" rx="0"/>
<rect x="431.00" y="482.00" width="17.00" height="35.00" fill="#fdf4f6" stroke="none" stroke-width="1" rx="0"/>
<rect x="363.50" y="511.50" width="12.00" height="5.60" fill="#f3efd2" stroke="#2a2a2a" stroke-width="0.9" rx="0"/>
<rect x="382.50" y="511.50" width="12.00" height="5.60" fill="#f2d2d7" stroke="#2a2a2a" stroke-width="0.9" rx="0"/>
<rect x="413.50" y="511.50" width="13.00" height="5.60" fill="#f3efd2" stroke="#2a2a2a" stroke-width="0.9" rx="0"/>
<rect x="433.50" y="486.50" width="12.00" height="30.60" fill="#f2d2d7" stroke="#2a2a2a" stroke-width="0.9" rx="0"/>
<rect x="363.80" y="510.80" width="4.40" height="4.40" fill="#a2a820"/>
<path d="M366.50,514.89L371.50,514.89L369.00,510.41Z" fill="#a2a820"/>
<path d="M369.50,511.11L374.50,511.11L372.00,515.59Z" fill="#a2a820"/>
<circle cx="368.50" cy="513.00" r="2.20" fill="#a2a820"/>
<circle cx="385.50" cy="513.00" r="2.20" fill="#801c12"/>
<rect x="386.30" y="510.80" width="4.40" height="4.40" fill="#801c12"/>
<path d="M389.00,514.89L394.00,514.89L391.50,510.41Z" fill="#7a4418"/>
<path d="M386.50,511.11L391.50,511.11L389.00,515.59Z" fill="#7a4418"/>
<rect x="413.80" y="510.80" width="4.40" height="4.40" fill="#a2a820"/>
<path d="M417.50,514.89L422.50,514.89L420.00,510.41Z" fill="#a2a820"/>
<path d="M421.50,511.11L426.50,511.11L424.00,515.59Z" fill="#a2a820"/>
<circle cx="418.90" cy="507.90" r="2.20" fill="#a2a820"/>
<line x1="439.40" y1="471.10" x2="439.40" y2="502.50" stroke="#333" stroke-width="0.7"/>
<line x1="437.60" y1="471.10" x2="441.20" y2="471.10" stroke="#333" stroke-width="0.7"/>
<line x1="437.60" y1="502.50" x2="441.20" y2="502.50" stroke="#333" stroke-width="0.7"/>
<path d="M436.90,450.29L441.90,450.29L439.40,445.81Z" fill="#7a4418"/>
<path d="M436.70,468.72L442.10,468.72L439.40,473.58Z" fill="#7a4418"/>
<rect x="433.10" y="510.30" width="4.20" height="4.20" fill="#801c12"/>
<circle cx="443.30" cy="512.40" r="2.10" fill="#801c12"/>
</svg>
</body></html>
